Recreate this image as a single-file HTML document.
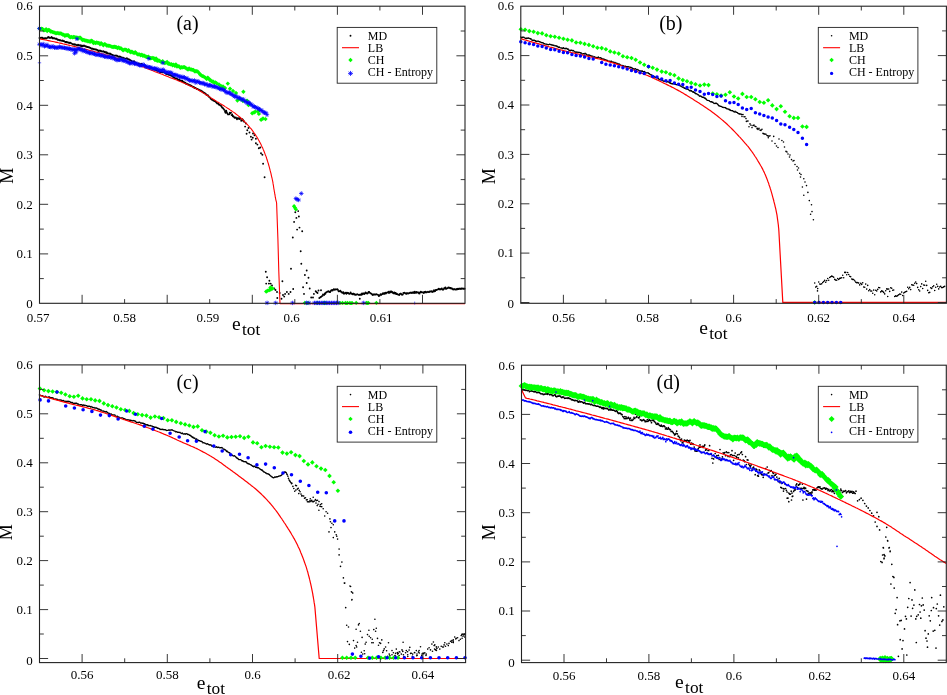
<!DOCTYPE html>
<html><head><meta charset="utf-8"><title>M vs e_tot</title>
<style>
html,body{margin:0;padding:0;background:#fff;}
body{width:947px;height:695px;overflow:hidden;font-family:"Liberation Serif",serif;}
#w{width:947px;height:695px;}
svg text{filter:grayscale(1);}
svg{display:block;}
svg text{font-family:"Liberation Serif",serif;fill:#000;}
</style></head><body><div id="w">
<svg width="947" height="695" viewBox="0 0 947 695">
<rect width="947" height="695" fill="#fff"/>
<path d="M39.5 38h0M40 37.7h0M40.6 38h0M41.1 37.9h0M41.7 37.6h0M42.2 37.8h0M42.8 38.3h0M43.3 38.6h0M43.9 38.2h0M44.4 38.5h0M45 38.3h0M45.5 38.3h0M46.1 38.6h0M46.6 38.1h0M47.2 37.9h0M47.7 37.5h0M48.3 37h0M48.8 37.3h0M49.4 37.9h0M49.9 37.8h0M50.5 37.9h0M51 37.8h0M51.6 37h0M52.1 37.6h0M52.7 38.4h0M53.2 38.2h0M53.8 38.1h0M54.3 38.3h0M54.9 38.5h0M55.4 38.8h0M56 38.8h0M56.5 38.7h0M57.1 39.3h0M57.6 39.7h0M58.2 39.8h0M58.7 39.9h0M59.3 40.2h0M59.8 39.9h0M60.4 40.3h0M60.9 40.5h0M61.5 40.6h0M62 40.8h0M62.6 40.4h0M63.1 41.1h0M63.7 41.1h0M64.2 41.3h0M64.8 41.6h0M65.3 42h0M65.9 41.9h0M66.4 42h0M67 42.4h0M67.5 42.3h0M68.1 42.6h0M68.6 42.8h0M69.2 42.8h0M69.7 43.1h0M70.3 42.8h0M70.8 42.9h0M71.4 43.4h0M71.9 43.6h0M72.5 44.1h0M73 44.4h0M73.6 44.3h0M74.1 44.8h0M74.7 44.2h0M75.2 44.6h0M75.8 44.8h0M76.3 44.9h0M76.9 45.2h0M77.4 45.2h0M78 44.8h0M78.5 45.2h0M79.1 45.2h0M79.6 45.4h0M80.2 45.3h0M80.7 45.8h0M81.3 46.2h0M81.8 45.5h0M82.4 46.1h0M82.9 46.2h0M83.5 45.8h0M84 45.5h0M84.6 45.9h0M85.1 46.2h0M85.7 46.3h0M86.2 46.7h0M86.8 46.7h0M87.3 47h0M87.9 46.9h0M88.4 47.2h0M89 47.3h0M89.5 47.5h0M90.1 47.9h0M90.6 48h0M91.2 48.5h0M91.7 48.7h0M92.3 48.7h0M92.8 48.7h0M93.4 49h0M93.9 49.2h0M94.5 49.3h0M95 49.4h0M95.6 49.5h0M96.1 49.5h0M96.7 49.9h0M97.2 49.9h0M97.8 50.5h0M98.3 51.1h0M98.9 50.4h0M99.4 50.7h0M100 50.7h0M100.5 50.6h0M101.1 51.2h0M101.6 51.3h0M102.2 51.6h0M102.7 51.4h0M103.3 51.3h0M103.8 51.6h0M104.4 52.2h0M104.9 51.8h0M105.5 52.2h0M106 52.7h0M106.6 52.3h0M107.1 53.3h0M107.7 53.2h0M108.2 53.6h0M108.8 53.6h0M109.3 53.8h0M109.9 53.8h0M110.4 53.6h0M111 54.2h0M111.5 54.5h0M112.1 54.8h0M112.6 55h0M113.2 55.2h0M113.7 55.5h0M114.3 55.6h0M114.8 55.7h0M115.4 55.6h0M115.9 55.6h0M116.5 55.7h0M117 55.6h0M117.6 56.1h0M118.1 56.6h0M118.7 56.7h0M119.2 56.8h0M119.8 56.5h0M120.3 56.7h0M120.9 57h0M121.4 57.5h0M122 57.7h0M122.5 57.7h0M123.1 57.8h0M123.6 57.9h0M124.2 58.1h0M124.7 58.5h0M125.3 58.6h0M125.8 58.7h0M126.4 58.5h0M126.9 58.3h0M127.5 58.9h0M128 59.4h0M128.6 59.2h0M129.1 59.6h0M129.7 59.8h0M130.2 60.2h0M130.8 60.4h0M131.3 60.7h0M131.9 61.2h0M132.4 61.5h0M133 61.6h0M133.5 61.5h0M134.1 61.3h0M134.6 61.9h0M135.2 62.4h0M135.7 62.7h0M136.3 62.6h0M136.8 63.4h0M137.4 63.9h0M137.9 63.8h0M138.5 63.6h0M139 63.5h0M139.6 64.1h0M140.1 64.2h0M140.7 64.3h0M141.2 64h0M141.8 63.9h0M142.3 64.4h0M142.9 64.8h0M143.4 64.9h0M144 65.1h0M144.5 65.6h0M145.1 66h0M145.6 66.4h0M146.2 66.5h0M146.7 66.6h0M147.3 67.1h0M147.8 67h0M148.4 66.9h0M148.9 67.2h0M149.5 67.6h0M150.1 68.1h0M150.6 67.8h0M151.2 68.4h0M151.7 68.5h0M152.3 68.5h0M152.8 68.5h0M153.4 68.8h0M153.9 69.6h0M154.5 69.5h0M155 69.7h0M155.6 70.1h0M156.1 70.2h0M156.7 70.4h0M157.2 70.8h0M157.8 70.9h0M158.3 70.8h0M158.9 71.5h0M159.4 71.6h0M160 72.1h0M160.5 72h0M161.1 72h0M161.6 71.9h0M162.2 72.1h0M162.7 72.4h0M163.3 72.4h0M163.8 72.3h0M164.4 72.4h0M164.9 72.8h0M165.5 73.1h0M166 73.8h0M166.6 74h0M167.1 74.2h0M167.7 74.4h0M168.2 74.1h0M168.8 74.7h0M169.3 74.9h0M169.9 75h0M170.4 75.2h0M171 75.2h0M171.5 75.9h0M172.1 75.9h0M172.6 76.6h0M173.2 77h0M173.7 77.6h0M174.3 77.8h0M174.8 78h0M175.4 78.1h0M175.9 78.5h0M176.5 78.6h0M177 78.5h0M177.6 79.2h0M178.1 79.6h0M178.7 80h0M179.2 79.7h0M179.8 80.5h0M180.3 80.4h0M180.9 80.7h0M181.4 81h0M182 81h0M182.5 81h0M183.1 81.6h0M183.6 82h0M184.2 82.2h0M184.7 82.7h0M185.3 82.8h0M185.8 83.5h0M186.4 83.9h0M186.9 83.8h0M187.5 84.3h0M188 84.4h0M188.6 84.4h0M189.1 84.9h0M189.7 85.2h0M190.2 85.3h0M190.8 85.7h0M191.3 85.8h0M191.9 86.3h0M192.4 86.5h0M193 86.8h0M193.5 87.2h0M194.1 87.2h0M194.6 88h0M195.2 87.9h0M195.7 87.9h0M196.3 88.6h0M196.8 89h0M197.4 88.9h0M197.9 89.1h0M198.5 89.5h0M199 89.7h0M199.6 90.1h0M200.1 90.6h0M200.7 90.5h0M201.2 91.2h0M201.8 91.1h0M202.3 91.5h0M202.9 91.9h0M203.4 92.6h0M204 92.8h0M204.5 92.9h0M205.1 93.6h0M205.6 93.8h0M206.2 94.5h0M206.7 94.9h0M207.3 95.2h0M207.8 95.3h0M208.4 95.9h0M208.9 96.7h0M209.5 97.1h0M210 97.6h0M210.6 98.5h0M211.1 99.1h0M211.7 99.6h0M212.2 99.7h0M212.8 100h0M213.3 100.6h0M213.9 100.7h0M214.4 101.1h0M215 101.3h0M215.5 101.4h0M216.1 102.2h0M216.6 102.8h0M217.2 103.4h0M217.7 103.5h0M218.3 103.8h0M218.8 104.4h0M219.4 104.9h0M219.9 104.9h0M220.5 105.4h0M221 105.7h0M221.6 106.6h0M222 107.4h0M222.6 107.7h0M223.2 108.4h0M223.8 109.1h0M224.4 109.9h0M225 111.7h0M225.6 112.8h0M226.2 110.7h0M226.8 112.2h0M227.4 113.4h0M228 114.4h0M228.6 114.4h0M229.2 114.2h0M229.8 112.8h0M230.4 113.3h0M231 112.6h0M231.6 115.1h0M232.2 114.4h0M232.8 116.2h0M233.4 116.3h0M234 116.9h0M234.6 117.8h0M235.2 117.6h0M235.8 117.4h0M236.4 118.3h0M237 119.2h0M237.6 118.3h0M238.2 118.1h0M238.8 118.7h0M239.4 119h0M240 117.9h0M240.6 118.7h0M241.2 120.7h0M241.8 120.5h0M242.4 119.2h0M243 119.9h0M243.6 120.7h0M244.2 121.7h0M245.1 126.6h0M247.3 130.2h0M246.6 133.8h0M250.9 136.7h0M251.6 139.6h0M254.5 135.3h0M255.9 138.8h0M255.9 143.2h0M257.4 144.6h0M258.8 148.2h0M260.3 147.5h0M261 153.2h0M262.4 154.7h0M263.1 163.7h0M264.6 177.3h0M248.5 128h0M249.5 132.5h0M253 133.5h0M246 123.5h0M243 120.3h0M252.8 137.7h0M265.8 271.7h0M267.1 277.3h0M269.4 280.7h0M266.2 283.6h0M268.9 283.6h0M270.7 283.6h0M274.3 288.5h0M277 292h0M279.7 293h0M282.4 281.3h0M277.3 298h0M281.5 298.7h0M284.2 296.6h0M285.1 293.9h0M286.9 292h0M288.7 293.9h0M290.5 292h0M293.2 289h0M291 268.7h0M292.8 237.5h0M294.1 221.9h0M296.4 217.9h0M295.3 212.3h0M298.2 211.1h0M298.9 216.5h0M297.1 229.6h0M299.5 227.6h0M302.2 231.2h0M300.7 251.2h0M301.3 263.8h0M304.9 275h0M306.7 270.5h0M308.5 277.7h0M306.7 283h0M303.1 287.2h0M304 293.9h0M309.7 288.5h0M311.2 297.5h0M313 297.5h0M313.9 293.9h0M315.7 291.2h0M317.5 293h0M321 290.3h0M319.3 298h0M272 285.5h0M275.5 290h0M283 295h0M316.5 292h0M318.5 290.5h0M320 297.6h0M320.6 297h0M321.2 296.8h0M321.8 296.1h0M322.4 295.9h0M323 294.5h0M323.6 294.7h0M324.2 294.9h0M324.8 293.5h0M325.4 293.7h0M326 292.4h0M326.6 292.1h0M327.2 291.8h0M327.8 291.6h0M328.4 291.3h0M329 291.5h0M329.6 292.1h0M330.2 292h0M330.8 290.9h0M331.4 290.3h0M332 290.1h0M332.6 290.6h0M333.2 289.6h0M333.8 289.3h0M334.4 289.7h0M335 289.5h0M335.6 289.5h0M336.2 289.4h0M336.8 289.4h0M337.4 289.2h0M338 290h0M338.6 291.3h0M339.2 291.2h0M339.8 291h0M340.4 290.8h0M341 291.8h0M341.6 292h0M342.2 292.8h0M342.8 292.7h0M343.4 292.2h0M344 293.7h0M344.6 293.3h0M345.2 293h0M345.8 292.7h0M346.4 293.8h0M347 292.7h0M347.6 293.1h0M348.2 292.9h0M348.8 293.6h0M349.4 293.9h0M350 293.4h0M350.6 292.5h0M351.2 293.5h0M351.8 293.7h0M352.4 294.3h0M353 293.8h0M353.6 293.6h0M354.2 294.6h0M354.8 294.2h0M355.4 294.8h0M356 294.8h0M356.6 294.5h0M357.2 294.2h0M357.8 294.4h0M358.4 294.6h0M359 295h0M359.6 294.8h0M360.2 294.8h0M360.8 294.5h0M361.4 294.7h0M362 293.5h0M362.6 294.3h0M363.2 293.4h0M363.8 293.5h0M364.4 294h0M365 293.1h0M365.6 292.5h0M366.2 293.3h0M366.8 293.3h0M367.4 293.5h0M368 292.9h0M368.6 292h0M369.2 292h0M369.8 292.6h0M370.4 293.2h0M371 293.4h0M371.6 293.7h0M372.2 294.6h0M372.8 295h0M373.4 294.5h0M374 294.5h0M374.6 294.5h0M375.2 294.4h0M375.8 294.5h0M376.4 294.1h0M377 294.4h0M377.6 294.6h0M378.2 294.9h0M378.8 296h0M379.4 295.7h0M380 295h0M380.6 294.3h0M381.2 294.9h0M381.8 294.2h0M382.4 294h0M383 293.2h0M383.6 293.7h0M384.2 293.1h0M384.8 293.7h0M385.4 292.8h0M386 293.4h0M386.6 292.7h0M387.2 292.6h0M387.8 292.4h0M388.4 291.7h0M389 293h0M389.6 292.4h0M390.2 291.4h0M390.8 292.2h0M391.4 291.5h0M392 291.6h0M392.6 292.7h0M393.2 292.8h0M393.8 293.4h0M394.4 292.5h0M395 293.6h0M395.6 292.9h0M396.2 294.1h0M396.8 293.6h0M397.4 294.1h0M398 294.5h0M398.6 294.6h0M399.2 295h0M399.8 293.9h0M400.4 293.6h0M401 293.8h0M401.6 294.6h0M402.2 294.7h0M402.8 294.4h0M403.4 293h0M404 292.9h0M404.6 292.7h0M405.2 293.2h0M405.8 293.6h0M406.4 293.9h0M407 293h0M407.6 293.4h0M408.2 293.6h0M408.8 293.2h0M409.4 293.1h0M410 292.7h0M410.6 292.7h0M411.2 292.8h0M411.8 293.1h0M412.4 292.5h0M413 292.8h0M413.6 292.3h0M414.2 293.1h0M414.8 291.8h0M415.4 292.5h0M416 292.9h0M416.6 291.9h0M417.2 292.1h0M417.8 292.6h0M418.4 292.5h0M419 293.4h0M419.6 293.6h0M420.2 292.2h0M420.8 291.6h0M421.4 292h0M422 292.4h0M422.6 292.4h0M423.2 292.5h0M423.8 293.1h0M424.4 292h0M425 292.3h0M425.6 291.6h0M426.2 292.2h0M426.8 292.2h0M427.4 291.9h0M428 291.7h0M428.6 292.1h0M429.2 292.1h0M429.8 291.5h0M430.4 291.5h0M431 291.4h0M431.6 291.2h0M432.2 292.1h0M432.8 291.5h0M433.4 291.6h0M434 290.3h0M434.6 291.2h0M435.2 291.1h0M435.8 290h0M436.4 290.1h0M437 289.7h0M437.6 289.4h0M438.2 289.3h0M438.8 288.7h0M439.4 289h0M440 289.5h0M440.6 289.3h0M441.2 288.7h0M441.8 288.4h0M442.4 289.4h0M443 289.7h0M443.6 289.2h0M444.2 288.3h0M444.8 288.3h0M445.4 287.4h0M446 288.9h0M446.6 288.5h0M447.2 288.3h0M447.8 287.9h0M448.4 287.4h0M449 287.9h0M449.6 287.6h0M450.2 288.3h0M450.8 287.9h0M451.4 288.5h0M452 288.4h0M452.6 289h0M453.2 289.6h0M453.8 289.3h0M454.4 289.2h0M455 289.1h0M455.6 289.5h0M456.2 289.6h0M456.8 288.9h0M457.4 289.2h0M458 288.8h0M458.6 289.1h0M459.2 288.7h0M459.8 288.8h0M460.4 288.8h0M461 289h0M461.6 288.5h0M462.2 288.4h0M462.8 288.6h0M463.4 288.9h0M464 288.5h0M464.6 288.7h0M359.8 298.7h0" stroke="#000000" stroke-width="1.90" stroke-linecap="round" fill="none"/>
<path d="M39.5 38.8L41 39.1L42.4 39.4L43.9 39.7L45.4 40L46.8 40.3L48.3 40.6L49.8 40.9L51.2 41.2L52.7 41.5L54.2 41.8L55.6 42.1L57.1 42.4L58.5 42.8L60 43.1L61.5 43.4L62.9 43.8L64.4 44.1L65.8 44.4L67.3 44.8L68.7 45.1L70.2 45.5L71.6 45.8L73.1 46.2L74.5 46.5L76 46.9L77.4 47.2L78.9 47.6L80.3 47.9L81.8 48.3L83.2 48.7L84.7 49L86.1 49.4L87.6 49.8L89 50.2L90.5 50.6L91.9 50.9L93.4 51.3L94.8 51.7L96.2 52.1L97.7 52.5L99.1 52.9L100.6 53.3L102 53.7L103.5 54.1L104.9 54.6L106.3 55L107.8 55.4L109.2 55.8L110.6 56.2L112.1 56.7L113.5 57.1L114.9 57.5L116.4 58L117.8 58.4L119.2 58.9L120.6 59.3L122.1 59.8L123.5 60.2L124.9 60.7L126.3 61.1L127.7 61.6L129.1 62.1L130.6 62.6L132 63.1L133.4 63.6L134.8 64L136.2 64.5L137.6 65L139 65.6L140.4 66.1L141.8 66.6L143.2 67.1L144.6 67.6L146 68.1L147.4 68.7L148.8 69.2L150.2 69.7L151.6 70.3L153 70.8L154.4 71.4L155.8 71.9L157.2 72.4L158.6 73L160 73.5L161.4 74.1L162.8 74.6L164.2 75.2L165.6 75.7L166.9 76.3L168.3 76.8L169.7 77.4L171.1 77.9L172.5 78.5L173.9 79L175.3 79.6L176.7 80.1L178.1 80.7L179.5 81.2L180.9 81.8L182.3 82.4L183.6 83L185 83.5L186.4 84.1L187.7 84.7L189.1 85.4L190.5 86L191.8 86.6L193.1 87.3L194.5 87.9L195.8 88.6L197.1 89.3L198.4 90L199.7 90.8L201 91.5L202.3 92.3L203.5 93.1L204.8 93.9L206.1 94.7L207.3 95.5L208.6 96.3L209.9 97.1L211.1 97.9L212.4 98.7L213.7 99.5L214.9 100.3L216.2 101.1L217.5 101.9L218.8 102.6L220 103.4L221.3 104.2L222.6 105L223.9 105.8L225.1 106.6L226.4 107.4L227.6 108.2L228.9 109L230.1 109.9L231.4 110.7L232.6 111.6L233.8 112.4L235.1 113.3L236.2 114.2L237.4 115.1L238.6 116.1L239.7 117L240.8 118L241.9 119L243 120.1L244.1 121.1L245.1 122.2L246.2 123.3L247.2 124.4L248.2 125.5L249.2 126.6L250.2 127.8L251.2 128.9L252.1 130.1L253 131.3L253.8 132.5L254.7 133.7L255.5 134.9L256.3 136.2L257.1 137.4L257.9 138.7L258.6 140L259.4 141.4L260.1 142.7L260.8 144L261.4 145.4L262 146.7L262.7 148.1L263.2 149.4L263.8 150.8L264.4 152.2L264.9 153.6L265.4 155L266 156.4L266.5 157.8L266.9 159.3L267.4 160.7L267.8 162.1L268.3 163.5L268.7 165L269.1 166.4L269.5 167.8L269.9 169.3L270.2 170.7L270.6 172.2L271 173.6L271.3 175.1L271.6 176.6L272 178L272.3 179.5L272.6 180.9L272.9 182.4L273.1 183.9L273.4 185.4L273.6 186.8L273.8 188.3L274.1 189.8L274.3 191.3L274.6 192.7L274.8 194.2L275.1 195.7L275.3 197.2L275.6 198.6L275.9 200.1L276.3 201.5L276.6 203L277.9 239L278.8 271.4L280 303.6L465 303.6" stroke="#ff0000" stroke-width="1.1" fill="none" stroke-linejoin="round"/>
<path d="M39.5 26.2l2.2 2.2l-2.2 2.2l-2.2 -2.2zM40.6 26.9l2.2 2.2l-2.2 2.2l-2.2 -2.2zM41.7 26.4l2.2 2.2l-2.2 2.2l-2.2 -2.2zM42.8 27.1l2.2 2.2l-2.2 2.2l-2.2 -2.2zM43.9 28l2.2 2.2l-2.2 2.2l-2.2 -2.2zM45 27.9l2.2 2.2l-2.2 2.2l-2.2 -2.2zM46.1 27.1l2.2 2.2l-2.2 2.2l-2.2 -2.2zM47.2 28.8l2.2 2.2l-2.2 2.2l-2.2 -2.2zM48.3 27.7l2.2 2.2l-2.2 2.2l-2.2 -2.2zM49.4 27.9l2.2 2.2l-2.2 2.2l-2.2 -2.2zM50.5 29.3l2.2 2.2l-2.2 2.2l-2.2 -2.2zM51.6 29.4l2.2 2.2l-2.2 2.2l-2.2 -2.2zM52.7 29.9l2.2 2.2l-2.2 2.2l-2.2 -2.2zM53.8 30.2l2.2 2.2l-2.2 2.2l-2.2 -2.2zM54.9 30.6l2.2 2.2l-2.2 2.2l-2.2 -2.2zM56 31.2l2.2 2.2l-2.2 2.2l-2.2 -2.2zM57.1 30.7l2.2 2.2l-2.2 2.2l-2.2 -2.2zM58.2 31.1l2.2 2.2l-2.2 2.2l-2.2 -2.2zM59.3 31.2l2.2 2.2l-2.2 2.2l-2.2 -2.2zM60.4 31.2l2.2 2.2l-2.2 2.2l-2.2 -2.2zM61.5 31.5l2.2 2.2l-2.2 2.2l-2.2 -2.2zM62.6 32.4l2.2 2.2l-2.2 2.2l-2.2 -2.2zM63.7 32.6l2.2 2.2l-2.2 2.2l-2.2 -2.2zM64.8 33.6l2.2 2.2l-2.2 2.2l-2.2 -2.2zM65.9 33.1l2.2 2.2l-2.2 2.2l-2.2 -2.2zM67 33l2.2 2.2l-2.2 2.2l-2.2 -2.2zM68.1 32.9l2.2 2.2l-2.2 2.2l-2.2 -2.2zM69.2 34.4l2.2 2.2l-2.2 2.2l-2.2 -2.2zM70.3 35l2.2 2.2l-2.2 2.2l-2.2 -2.2zM71.4 34.7l2.2 2.2l-2.2 2.2l-2.2 -2.2zM72.5 35.2l2.2 2.2l-2.2 2.2l-2.2 -2.2zM73.6 34.8l2.2 2.2l-2.2 2.2l-2.2 -2.2zM74.7 34.9l2.2 2.2l-2.2 2.2l-2.2 -2.2zM75.8 35.4l2.2 2.2l-2.2 2.2l-2.2 -2.2zM76.9 35.2l2.2 2.2l-2.2 2.2l-2.2 -2.2zM78 36.4l2.2 2.2l-2.2 2.2l-2.2 -2.2zM79.1 35.5l2.2 2.2l-2.2 2.2l-2.2 -2.2zM80.2 35.4l2.2 2.2l-2.2 2.2l-2.2 -2.2zM81.3 36.4l2.2 2.2l-2.2 2.2l-2.2 -2.2zM82.4 37.8l2.2 2.2l-2.2 2.2l-2.2 -2.2zM83.5 37.7l2.2 2.2l-2.2 2.2l-2.2 -2.2zM84.6 38.1l2.2 2.2l-2.2 2.2l-2.2 -2.2zM85.7 38.4l2.2 2.2l-2.2 2.2l-2.2 -2.2zM86.8 38.6l2.2 2.2l-2.2 2.2l-2.2 -2.2zM87.9 39.1l2.2 2.2l-2.2 2.2l-2.2 -2.2zM89 39.1l2.2 2.2l-2.2 2.2l-2.2 -2.2zM90.1 39.6l2.2 2.2l-2.2 2.2l-2.2 -2.2zM91.2 38.4l2.2 2.2l-2.2 2.2l-2.2 -2.2zM92.3 38.9l2.2 2.2l-2.2 2.2l-2.2 -2.2zM93.4 40.8l2.2 2.2l-2.2 2.2l-2.2 -2.2zM94.5 40.3l2.2 2.2l-2.2 2.2l-2.2 -2.2zM95.6 40.8l2.2 2.2l-2.2 2.2l-2.2 -2.2zM96.7 40.3l2.2 2.2l-2.2 2.2l-2.2 -2.2zM97.8 40.7l2.2 2.2l-2.2 2.2l-2.2 -2.2zM98.9 40.7l2.2 2.2l-2.2 2.2l-2.2 -2.2zM100 42l2.2 2.2l-2.2 2.2l-2.2 -2.2zM101.1 40.9l2.2 2.2l-2.2 2.2l-2.2 -2.2zM102.2 41.9l2.2 2.2l-2.2 2.2l-2.2 -2.2zM103.3 43l2.2 2.2l-2.2 2.2l-2.2 -2.2zM104.4 41.9l2.2 2.2l-2.2 2.2l-2.2 -2.2zM105.5 42.3l2.2 2.2l-2.2 2.2l-2.2 -2.2zM106.6 43.3l2.2 2.2l-2.2 2.2l-2.2 -2.2zM107.7 43.4l2.2 2.2l-2.2 2.2l-2.2 -2.2zM108.8 43.6l2.2 2.2l-2.2 2.2l-2.2 -2.2zM109.9 43.7l2.2 2.2l-2.2 2.2l-2.2 -2.2zM111 44.2l2.2 2.2l-2.2 2.2l-2.2 -2.2zM112.1 44.7l2.2 2.2l-2.2 2.2l-2.2 -2.2zM113.2 44.8l2.2 2.2l-2.2 2.2l-2.2 -2.2zM114.3 44.6l2.2 2.2l-2.2 2.2l-2.2 -2.2zM115.4 44.8l2.2 2.2l-2.2 2.2l-2.2 -2.2zM116.5 45.1l2.2 2.2l-2.2 2.2l-2.2 -2.2zM117.6 45.8l2.2 2.2l-2.2 2.2l-2.2 -2.2zM118.7 45.2l2.2 2.2l-2.2 2.2l-2.2 -2.2zM119.8 46.2l2.2 2.2l-2.2 2.2l-2.2 -2.2zM120.9 46.1l2.2 2.2l-2.2 2.2l-2.2 -2.2zM122 47l2.2 2.2l-2.2 2.2l-2.2 -2.2zM123.1 48.2l2.2 2.2l-2.2 2.2l-2.2 -2.2zM124.2 47.4l2.2 2.2l-2.2 2.2l-2.2 -2.2zM125.3 47.4l2.2 2.2l-2.2 2.2l-2.2 -2.2zM126.4 47.8l2.2 2.2l-2.2 2.2l-2.2 -2.2zM127.5 48.8l2.2 2.2l-2.2 2.2l-2.2 -2.2zM128.6 47.9l2.2 2.2l-2.2 2.2l-2.2 -2.2zM129.7 49.4l2.2 2.2l-2.2 2.2l-2.2 -2.2zM130.8 50.1l2.2 2.2l-2.2 2.2l-2.2 -2.2zM131.9 49.4l2.2 2.2l-2.2 2.2l-2.2 -2.2zM133 50.3l2.2 2.2l-2.2 2.2l-2.2 -2.2zM134.1 50.9l2.2 2.2l-2.2 2.2l-2.2 -2.2zM135.2 49.9l2.2 2.2l-2.2 2.2l-2.2 -2.2zM136.3 51.1l2.2 2.2l-2.2 2.2l-2.2 -2.2zM137.4 52l2.2 2.2l-2.2 2.2l-2.2 -2.2zM138.5 52.2l2.2 2.2l-2.2 2.2l-2.2 -2.2zM139.6 52.2l2.2 2.2l-2.2 2.2l-2.2 -2.2zM140.7 53l2.2 2.2l-2.2 2.2l-2.2 -2.2zM141.8 52.6l2.2 2.2l-2.2 2.2l-2.2 -2.2zM142.9 53.6l2.2 2.2l-2.2 2.2l-2.2 -2.2zM144 53.3l2.2 2.2l-2.2 2.2l-2.2 -2.2zM145.1 54l2.2 2.2l-2.2 2.2l-2.2 -2.2zM146.2 54.5l2.2 2.2l-2.2 2.2l-2.2 -2.2zM147.3 54.9l2.2 2.2l-2.2 2.2l-2.2 -2.2zM148.4 54.4l2.2 2.2l-2.2 2.2l-2.2 -2.2zM149.5 55.9l2.2 2.2l-2.2 2.2l-2.2 -2.2zM150.6 56l2.2 2.2l-2.2 2.2l-2.2 -2.2zM151.7 55.9l2.2 2.2l-2.2 2.2l-2.2 -2.2zM152.8 55.7l2.2 2.2l-2.2 2.2l-2.2 -2.2zM153.9 56.1l2.2 2.2l-2.2 2.2l-2.2 -2.2zM155 57.8l2.2 2.2l-2.2 2.2l-2.2 -2.2zM156.1 56.3l2.2 2.2l-2.2 2.2l-2.2 -2.2zM157.2 58.5l2.2 2.2l-2.2 2.2l-2.2 -2.2zM158.3 58.3l2.2 2.2l-2.2 2.2l-2.2 -2.2zM159.4 58.6l2.2 2.2l-2.2 2.2l-2.2 -2.2zM160.5 59.4l2.2 2.2l-2.2 2.2l-2.2 -2.2zM161.6 59.9l2.2 2.2l-2.2 2.2l-2.2 -2.2zM162.7 59l2.2 2.2l-2.2 2.2l-2.2 -2.2zM163.8 60.4l2.2 2.2l-2.2 2.2l-2.2 -2.2zM164.9 60.9l2.2 2.2l-2.2 2.2l-2.2 -2.2zM166 60.4l2.2 2.2l-2.2 2.2l-2.2 -2.2zM167.1 59.8l2.2 2.2l-2.2 2.2l-2.2 -2.2zM168.2 61.6l2.2 2.2l-2.2 2.2l-2.2 -2.2zM169.3 61.5l2.2 2.2l-2.2 2.2l-2.2 -2.2zM170.4 62.2l2.2 2.2l-2.2 2.2l-2.2 -2.2zM171.5 62.1l2.2 2.2l-2.2 2.2l-2.2 -2.2zM172.6 63l2.2 2.2l-2.2 2.2l-2.2 -2.2zM173.7 62.4l2.2 2.2l-2.2 2.2l-2.2 -2.2zM174.8 63.5l2.2 2.2l-2.2 2.2l-2.2 -2.2zM175.9 62.3l2.2 2.2l-2.2 2.2l-2.2 -2.2zM177 64.3l2.2 2.2l-2.2 2.2l-2.2 -2.2zM178.1 63.9l2.2 2.2l-2.2 2.2l-2.2 -2.2zM179.2 64.3l2.2 2.2l-2.2 2.2l-2.2 -2.2zM180.3 65.6l2.2 2.2l-2.2 2.2l-2.2 -2.2zM181.4 65l2.2 2.2l-2.2 2.2l-2.2 -2.2zM182.5 65.2l2.2 2.2l-2.2 2.2l-2.2 -2.2zM183.6 64.9l2.2 2.2l-2.2 2.2l-2.2 -2.2zM184.7 65l2.2 2.2l-2.2 2.2l-2.2 -2.2zM185.8 65.9l2.2 2.2l-2.2 2.2l-2.2 -2.2zM186.9 66.6l2.2 2.2l-2.2 2.2l-2.2 -2.2zM188 67.3l2.2 2.2l-2.2 2.2l-2.2 -2.2zM189.1 66.3l2.2 2.2l-2.2 2.2l-2.2 -2.2zM190.2 67.2l2.2 2.2l-2.2 2.2l-2.2 -2.2zM191.3 67.3l2.2 2.2l-2.2 2.2l-2.2 -2.2zM192.4 67.7l2.2 2.2l-2.2 2.2l-2.2 -2.2zM193.5 67.8l2.2 2.2l-2.2 2.2l-2.2 -2.2zM194.6 69l2.2 2.2l-2.2 2.2l-2.2 -2.2zM195.7 69.1l2.2 2.2l-2.2 2.2l-2.2 -2.2zM196.8 69l2.2 2.2l-2.2 2.2l-2.2 -2.2zM197.9 69.5l2.2 2.2l-2.2 2.2l-2.2 -2.2zM199 70.8l2.2 2.2l-2.2 2.2l-2.2 -2.2zM200.1 72.4l2.2 2.2l-2.2 2.2l-2.2 -2.2zM201.2 73l2.2 2.2l-2.2 2.2l-2.2 -2.2zM202.3 73.9l2.2 2.2l-2.2 2.2l-2.2 -2.2zM203.4 74.2l2.2 2.2l-2.2 2.2l-2.2 -2.2zM204.5 74.9l2.2 2.2l-2.2 2.2l-2.2 -2.2zM205.6 75.8l2.2 2.2l-2.2 2.2l-2.2 -2.2zM206.7 76.8l2.2 2.2l-2.2 2.2l-2.2 -2.2zM207.8 75.4l2.2 2.2l-2.2 2.2l-2.2 -2.2zM208.9 76.4l2.2 2.2l-2.2 2.2l-2.2 -2.2zM210 78l2.2 2.2l-2.2 2.2l-2.2 -2.2zM211.1 78.5l2.2 2.2l-2.2 2.2l-2.2 -2.2zM212.2 79.3l2.2 2.2l-2.2 2.2l-2.2 -2.2zM213.3 79.6l2.2 2.2l-2.2 2.2l-2.2 -2.2zM214.4 80.5l2.2 2.2l-2.2 2.2l-2.2 -2.2zM215.5 80.2l2.2 2.2l-2.2 2.2l-2.2 -2.2zM216.6 81.1l2.2 2.2l-2.2 2.2l-2.2 -2.2zM219 82.3l2.2 2.2l-2.2 2.2l-2.2 -2.2zM221 83.8l2.2 2.2l-2.2 2.2l-2.2 -2.2zM223 84.3l2.2 2.2l-2.2 2.2l-2.2 -2.2zM225 85.8l2.2 2.2l-2.2 2.2l-2.2 -2.2zM227.8 81.4l2.2 2.2l-2.2 2.2l-2.2 -2.2zM230 86.6l2.2 2.2l-2.2 2.2l-2.2 -2.2zM233 88.8l2.2 2.2l-2.2 2.2l-2.2 -2.2zM236 90.8l2.2 2.2l-2.2 2.2l-2.2 -2.2zM243.4 89.5l2.2 2.2l-2.2 2.2l-2.2 -2.2zM237.4 98.4l2.2 2.2l-2.2 2.2l-2.2 -2.2zM240 96.8l2.2 2.2l-2.2 2.2l-2.2 -2.2zM243 98.8l2.2 2.2l-2.2 2.2l-2.2 -2.2zM247 98.4l2.2 2.2l-2.2 2.2l-2.2 -2.2zM248.5 102.8l2.2 2.2l-2.2 2.2l-2.2 -2.2zM250 101.8l2.2 2.2l-2.2 2.2l-2.2 -2.2zM252.2 111l2.2 2.2l-2.2 2.2l-2.2 -2.2zM255.2 109.5l2.2 2.2l-2.2 2.2l-2.2 -2.2zM258.9 111.7l2.2 2.2l-2.2 2.2l-2.2 -2.2zM261.1 117.6l2.2 2.2l-2.2 2.2l-2.2 -2.2zM263 116.3l2.2 2.2l-2.2 2.2l-2.2 -2.2zM265.5 116.9l2.2 2.2l-2.2 2.2l-2.2 -2.2zM258 109.3l2.2 2.2l-2.2 2.2l-2.2 -2.2zM254 110.3l2.2 2.2l-2.2 2.2l-2.2 -2.2zM266.2 289.3l2.2 2.2l-2.2 2.2l-2.2 -2.2zM267.8 288.4l2.2 2.2l-2.2 2.2l-2.2 -2.2zM269.4 287.8l2.2 2.2l-2.2 2.2l-2.2 -2.2zM271 287l2.2 2.2l-2.2 2.2l-2.2 -2.2zM272.5 286.3l2.2 2.2l-2.2 2.2l-2.2 -2.2zM270.5 285.3l2.2 2.2l-2.2 2.2l-2.2 -2.2zM294.1 204l2.2 2.2l-2.2 2.2l-2.2 -2.2zM295 205.6l2.2 2.2l-2.2 2.2l-2.2 -2.2zM295.9 207.1l2.2 2.2l-2.2 2.2l-2.2 -2.2zM304.9 300.7l2.2 2.2l-2.2 2.2l-2.2 -2.2zM308 300.7l2.2 2.2l-2.2 2.2l-2.2 -2.2zM317.5 300.7l2.2 2.2l-2.2 2.2l-2.2 -2.2zM323.8 300.7l2.2 2.2l-2.2 2.2l-2.2 -2.2zM325.2 300.7l2.2 2.2l-2.2 2.2l-2.2 -2.2zM340 300.7l2.2 2.2l-2.2 2.2l-2.2 -2.2zM342.5 300.7l2.2 2.2l-2.2 2.2l-2.2 -2.2zM345.4 300.7l2.2 2.2l-2.2 2.2l-2.2 -2.2zM347.5 300.7l2.2 2.2l-2.2 2.2l-2.2 -2.2zM349.9 300.7l2.2 2.2l-2.2 2.2l-2.2 -2.2zM352 300.7l2.2 2.2l-2.2 2.2l-2.2 -2.2zM356.2 300.7l2.2 2.2l-2.2 2.2l-2.2 -2.2zM366.6 300.7l2.2 2.2l-2.2 2.2l-2.2 -2.2zM368.3 300.7l2.2 2.2l-2.2 2.2l-2.2 -2.2zM376.4 300.7l2.2 2.2l-2.2 2.2l-2.2 -2.2z" fill="#00ff00"/>
<path d="M37.3 44.3h4.4M39.5 42.1v4.4M37.9 42.7l3.1 3.1M37.9 45.8l3.1 -3.1M38.5 44.5h4.4M40.8 42.3v4.4M39.2 42.9l3.1 3.1M39.2 46l3.1 -3.1M39.8 45.4h4.4M42 43.2v4.4M40.4 43.8l3.1 3.1M40.4 46.9l3.1 -3.1M41 44h4.4M43.2 41.8v4.4M41.7 42.4l3.1 3.1M41.7 45.5l3.1 -3.1M42.3 46.3h4.4M44.5 44.1v4.4M42.9 44.7l3.1 3.1M42.9 47.8l3.1 -3.1M43.5 45.8h4.4M45.8 43.6v4.4M44.2 44.3l3.1 3.1M44.2 47.4l3.1 -3.1M44.8 44.8h4.4M47 42.6v4.4M45.4 43.3l3.1 3.1M45.4 46.4l3.1 -3.1M46 46.5h4.4M48.2 44.3v4.4M46.7 44.9l3.1 3.1M46.7 48l3.1 -3.1M47.3 46.8h4.4M49.5 44.6v4.4M47.9 45.3l3.1 3.1M47.9 48.4l3.1 -3.1M48.5 47.2h4.4M50.8 45v4.4M49.2 45.6l3.1 3.1M49.2 48.8l3.1 -3.1M49.8 46.6h4.4M52 44.4v4.4M50.4 45l3.1 3.1M50.4 48.1l3.1 -3.1M51 46.6h4.4M53.2 44.4v4.4M51.7 45.1l3.1 3.1M51.7 48.2l3.1 -3.1M52.3 47.7h4.4M54.5 45.5v4.4M52.9 46.2l3.1 3.1M52.9 49.3l3.1 -3.1M53.5 47.3h4.4M55.8 45.1v4.4M54.2 45.8l3.1 3.1M54.2 48.9l3.1 -3.1M54.8 47.8h4.4M57 45.6v4.4M55.4 46.2l3.1 3.1M55.4 49.3l3.1 -3.1M56 47.6h4.4M58.2 45.4v4.4M56.7 46l3.1 3.1M56.7 49.1l3.1 -3.1M57.3 46.7h4.4M59.5 44.5v4.4M57.9 45.2l3.1 3.1M57.9 48.3l3.1 -3.1M58.5 47.4h4.4M60.8 45.2v4.4M59.2 45.9l3.1 3.1M59.2 49l3.1 -3.1M59.8 47.4h4.4M62 45.2v4.4M60.4 45.9l3.1 3.1M60.4 49l3.1 -3.1M61 47.8h4.4M63.2 45.6v4.4M61.7 46.3l3.1 3.1M61.7 49.4l3.1 -3.1M62.3 47.9h4.4M64.5 45.7v4.4M62.9 46.4l3.1 3.1M62.9 49.5l3.1 -3.1M63.5 48.2h4.4M65.8 46v4.4M64.2 46.6l3.1 3.1M64.2 49.7l3.1 -3.1M64.8 48.1h4.4M67 45.9v4.4M65.4 46.6l3.1 3.1M65.4 49.7l3.1 -3.1M66 49h4.4M68.2 46.8v4.4M66.7 47.4l3.1 3.1M66.7 50.5l3.1 -3.1M67.3 48.6h4.4M69.5 46.4v4.4M67.9 47l3.1 3.1M67.9 50.1l3.1 -3.1M68.5 49.2h4.4M70.8 47v4.4M69.2 47.6l3.1 3.1M69.2 50.8l3.1 -3.1M69.8 49.5h4.4M72 47.3v4.4M70.4 47.9l3.1 3.1M70.4 51.1l3.1 -3.1M71 49.5h4.4M73.2 47.3v4.4M71.7 48l3.1 3.1M71.7 51.1l3.1 -3.1M72.3 49.6h4.4M74.5 47.4v4.4M72.9 48.1l3.1 3.1M72.9 51.2l3.1 -3.1M73.5 49.9h4.4M75.8 47.7v4.4M74.2 48.3l3.1 3.1M74.2 51.4l3.1 -3.1M74.8 49.5h4.4M77 47.3v4.4M75.4 48l3.1 3.1M75.4 51.1l3.1 -3.1M76 48.8h4.4M78.2 46.6v4.4M76.7 47.2l3.1 3.1M76.7 50.3l3.1 -3.1M77.3 48.8h4.4M79.5 46.6v4.4M77.9 47.2l3.1 3.1M77.9 50.3l3.1 -3.1M78.5 50h4.4M80.8 47.8v4.4M79.2 48.4l3.1 3.1M79.2 51.5l3.1 -3.1M79.8 49.5h4.4M82 47.3v4.4M80.4 47.9l3.1 3.1M80.4 51l3.1 -3.1M81 51.1h4.4M83.2 48.9v4.4M81.7 49.6l3.1 3.1M81.7 52.7l3.1 -3.1M82.3 50.3h4.4M84.5 48.1v4.4M82.9 48.8l3.1 3.1M82.9 51.9l3.1 -3.1M83.5 51.4h4.4M85.8 49.2v4.4M84.2 49.8l3.1 3.1M84.2 52.9l3.1 -3.1M84.8 52.2h4.4M87 50v4.4M85.4 50.7l3.1 3.1M85.4 53.8l3.1 -3.1M86 52.2h4.4M88.2 50v4.4M86.7 50.6l3.1 3.1M86.7 53.8l3.1 -3.1M87.3 53.1h4.4M89.5 50.9v4.4M87.9 51.5l3.1 3.1M87.9 54.6l3.1 -3.1M88.5 53.1h4.4M90.8 50.9v4.4M89.2 51.5l3.1 3.1M89.2 54.6l3.1 -3.1M89.8 52.9h4.4M92 50.7v4.4M90.4 51.3l3.1 3.1M90.4 54.5l3.1 -3.1M91 53.7h4.4M93.2 51.5v4.4M91.7 52.2l3.1 3.1M91.7 55.3l3.1 -3.1M92.3 54h4.4M94.5 51.8v4.4M92.9 52.4l3.1 3.1M92.9 55.6l3.1 -3.1M93.5 54.5h4.4M95.8 52.3v4.4M94.2 52.9l3.1 3.1M94.2 56l3.1 -3.1M94.8 54.9h4.4M97 52.7v4.4M95.4 53.4l3.1 3.1M95.4 56.5l3.1 -3.1M96 54.5h4.4M98.2 52.3v4.4M96.7 53l3.1 3.1M96.7 56.1l3.1 -3.1M97.3 54.8h4.4M99.5 52.6v4.4M97.9 53.2l3.1 3.1M97.9 56.3l3.1 -3.1M98.5 55.7h4.4M100.8 53.5v4.4M99.2 54.1l3.1 3.1M99.2 57.3l3.1 -3.1M99.8 55h4.4M102 52.8v4.4M100.4 53.4l3.1 3.1M100.4 56.5l3.1 -3.1M101 56h4.4M103.2 53.8v4.4M101.7 54.4l3.1 3.1M101.7 57.5l3.1 -3.1M102.3 56.6h4.4M104.5 54.4v4.4M102.9 55l3.1 3.1M102.9 58.1l3.1 -3.1M103.5 56.5h4.4M105.8 54.3v4.4M104.2 55l3.1 3.1M104.2 58.1l3.1 -3.1M104.8 56.9h4.4M107 54.7v4.4M105.4 55.4l3.1 3.1M105.4 58.5l3.1 -3.1M106 57.2h4.4M108.2 55v4.4M106.7 55.6l3.1 3.1M106.7 58.7l3.1 -3.1M107.3 56.9h4.4M109.5 54.7v4.4M107.9 55.4l3.1 3.1M107.9 58.5l3.1 -3.1M108.5 57.4h4.4M110.8 55.2v4.4M109.2 55.9l3.1 3.1M109.2 59l3.1 -3.1M109.8 57.9h4.4M112 55.7v4.4M110.4 56.3l3.1 3.1M110.4 59.4l3.1 -3.1M111 57.4h4.4M113.2 55.2v4.4M111.7 55.8l3.1 3.1M111.7 58.9l3.1 -3.1M112.3 59h4.4M114.5 56.8v4.4M112.9 57.4l3.1 3.1M112.9 60.5l3.1 -3.1M113.5 59h4.4M115.8 56.8v4.4M114.2 57.4l3.1 3.1M114.2 60.5l3.1 -3.1M114.8 60.2h4.4M117 58v4.4M115.4 58.7l3.1 3.1M115.4 61.8l3.1 -3.1M116 59.9h4.4M118.2 57.7v4.4M116.7 58.3l3.1 3.1M116.7 61.5l3.1 -3.1M117.3 59.9h4.4M119.5 57.7v4.4M117.9 58.3l3.1 3.1M117.9 61.4l3.1 -3.1M118.5 59.4h4.4M120.8 57.2v4.4M119.2 57.8l3.1 3.1M119.2 60.9l3.1 -3.1M119.8 59.6h4.4M122 57.4v4.4M120.4 58.1l3.1 3.1M120.4 61.2l3.1 -3.1M121 60.9h4.4M123.2 58.7v4.4M121.7 59.3l3.1 3.1M121.7 62.4l3.1 -3.1M122.3 60.3h4.4M124.5 58.1v4.4M122.9 58.7l3.1 3.1M122.9 61.8l3.1 -3.1M123.5 61h4.4M125.8 58.8v4.4M124.2 59.4l3.1 3.1M124.2 62.5l3.1 -3.1M124.8 61.8h4.4M127 59.6v4.4M125.4 60.3l3.1 3.1M125.4 63.4l3.1 -3.1M126 62.3h4.4M128.2 60.1v4.4M126.7 60.7l3.1 3.1M126.7 63.8l3.1 -3.1M127.3 63.2h4.4M129.5 61v4.4M127.9 61.6l3.1 3.1M127.9 64.8l3.1 -3.1M128.6 63.3h4.4M130.8 61.1v4.4M129.2 61.8l3.1 3.1M129.2 64.9l3.1 -3.1M129.8 62.5h4.4M132 60.3v4.4M130.4 61l3.1 3.1M130.4 64.1l3.1 -3.1M131.1 62.8h4.4M133.2 60.6v4.4M131.7 61.3l3.1 3.1M131.7 64.4l3.1 -3.1M132.3 63.9h4.4M134.5 61.7v4.4M132.9 62.4l3.1 3.1M132.9 65.5l3.1 -3.1M133.6 63.2h4.4M135.8 61v4.4M134.2 61.7l3.1 3.1M134.2 64.8l3.1 -3.1M134.8 64.2h4.4M137 62v4.4M135.4 62.7l3.1 3.1M135.4 65.8l3.1 -3.1M136.1 64.5h4.4M138.2 62.3v4.4M136.7 62.9l3.1 3.1M136.7 66l3.1 -3.1M137.3 65.3h4.4M139.5 63.1v4.4M137.9 63.7l3.1 3.1M137.9 66.9l3.1 -3.1M138.6 65.4h4.4M140.8 63.2v4.4M139.2 63.9l3.1 3.1M139.2 67l3.1 -3.1M139.8 65.5h4.4M142 63.3v4.4M140.4 63.9l3.1 3.1M140.4 67l3.1 -3.1M141.1 64.5h4.4M143.2 62.3v4.4M141.7 63l3.1 3.1M141.7 66.1l3.1 -3.1M142.3 65.4h4.4M144.5 63.2v4.4M142.9 63.9l3.1 3.1M142.9 67l3.1 -3.1M143.6 66.6h4.4M145.8 64.4v4.4M144.2 65.1l3.1 3.1M144.2 68.2l3.1 -3.1M144.8 66.7h4.4M147 64.5v4.4M145.4 65.1l3.1 3.1M145.4 68.3l3.1 -3.1M146.1 67h4.4M148.2 64.8v4.4M146.7 65.4l3.1 3.1M146.7 68.5l3.1 -3.1M147.3 67.4h4.4M149.5 65.2v4.4M147.9 65.9l3.1 3.1M147.9 69l3.1 -3.1M148.6 67.3h4.4M150.8 65.1v4.4M149.2 65.8l3.1 3.1M149.2 68.9l3.1 -3.1M149.8 68.4h4.4M152 66.2v4.4M150.4 66.9l3.1 3.1M150.4 70l3.1 -3.1M151.1 68.5h4.4M153.2 66.3v4.4M151.7 67l3.1 3.1M151.7 70.1l3.1 -3.1M152.3 68.5h4.4M154.5 66.3v4.4M152.9 66.9l3.1 3.1M152.9 70l3.1 -3.1M153.6 68.6h4.4M155.8 66.4v4.4M154.2 67l3.1 3.1M154.2 70.1l3.1 -3.1M154.8 69h4.4M157 66.8v4.4M155.4 67.4l3.1 3.1M155.4 70.6l3.1 -3.1M156.1 69.6h4.4M158.2 67.4v4.4M156.7 68l3.1 3.1M156.7 71.1l3.1 -3.1M157.3 71h4.4M159.5 68.8v4.4M157.9 69.4l3.1 3.1M157.9 72.5l3.1 -3.1M158.6 69.9h4.4M160.8 67.7v4.4M159.2 68.4l3.1 3.1M159.2 71.5l3.1 -3.1M159.8 70.9h4.4M162 68.7v4.4M160.4 69.4l3.1 3.1M160.4 72.5l3.1 -3.1M161.1 69.5h4.4M163.2 67.3v4.4M161.7 67.9l3.1 3.1M161.7 71l3.1 -3.1M162.3 71.3h4.4M164.5 69.1v4.4M162.9 69.7l3.1 3.1M162.9 72.8l3.1 -3.1M163.6 72.4h4.4M165.8 70.2v4.4M164.2 70.9l3.1 3.1M164.2 74l3.1 -3.1M164.8 72h4.4M167 69.8v4.4M165.4 70.5l3.1 3.1M165.4 73.6l3.1 -3.1M166.1 72.6h4.4M168.2 70.4v4.4M166.7 71l3.1 3.1M166.7 74.1l3.1 -3.1M167.3 72.8h4.4M169.5 70.6v4.4M167.9 71.2l3.1 3.1M167.9 74.3l3.1 -3.1M168.6 72.4h4.4M170.8 70.2v4.4M169.2 70.9l3.1 3.1M169.2 74l3.1 -3.1M169.8 73.5h4.4M172 71.3v4.4M170.4 72l3.1 3.1M170.4 75.1l3.1 -3.1M171.1 74.9h4.4M173.2 72.7v4.4M171.7 73.4l3.1 3.1M171.7 76.5l3.1 -3.1M172.3 74.9h4.4M174.5 72.7v4.4M172.9 73.3l3.1 3.1M172.9 76.4l3.1 -3.1M173.6 74.8h4.4M175.8 72.6v4.4M174.2 73.2l3.1 3.1M174.2 76.3l3.1 -3.1M174.8 75.5h4.4M177 73.3v4.4M175.4 73.9l3.1 3.1M175.4 77l3.1 -3.1M176.1 76h4.4M178.2 73.8v4.4M176.7 74.4l3.1 3.1M176.7 77.5l3.1 -3.1M177.3 76.9h4.4M179.5 74.7v4.4M177.9 75.3l3.1 3.1M177.9 78.5l3.1 -3.1M178.6 76.5h4.4M180.8 74.3v4.4M179.2 75l3.1 3.1M179.2 78.1l3.1 -3.1M179.8 77.7h4.4M182 75.5v4.4M180.4 76.1l3.1 3.1M180.4 79.2l3.1 -3.1M181.1 77h4.4M183.2 74.8v4.4M181.7 75.5l3.1 3.1M181.7 78.6l3.1 -3.1M182.3 77.5h4.4M184.5 75.3v4.4M182.9 75.9l3.1 3.1M182.9 79l3.1 -3.1M183.6 78.6h4.4M185.8 76.4v4.4M184.2 77.1l3.1 3.1M184.2 80.2l3.1 -3.1M184.8 78.4h4.4M187 76.2v4.4M185.4 76.8l3.1 3.1M185.4 79.9l3.1 -3.1M186.1 79.6h4.4M188.2 77.4v4.4M186.7 78l3.1 3.1M186.7 81.1l3.1 -3.1M187.3 80.4h4.4M189.5 78.2v4.4M187.9 78.8l3.1 3.1M187.9 81.9l3.1 -3.1M188.6 80.6h4.4M190.8 78.4v4.4M189.2 79.1l3.1 3.1M189.2 82.2l3.1 -3.1M189.8 80.5h4.4M192 78.3v4.4M190.4 78.9l3.1 3.1M190.4 82l3.1 -3.1M191.1 81.3h4.4M193.2 79.1v4.4M191.7 79.8l3.1 3.1M191.7 82.9l3.1 -3.1M192.3 80.5h4.4M194.5 78.3v4.4M192.9 78.9l3.1 3.1M192.9 82l3.1 -3.1M193.6 82.6h4.4M195.8 80.4v4.4M194.2 81l3.1 3.1M194.2 84.2l3.1 -3.1M194.8 81.3h4.4M197 79.1v4.4M195.4 79.7l3.1 3.1M195.4 82.8l3.1 -3.1M196.1 81.6h4.4M198.2 79.4v4.4M196.7 80l3.1 3.1M196.7 83.1l3.1 -3.1M197.3 82.7h4.4M199.5 80.5v4.4M197.9 81.1l3.1 3.1M197.9 84.2l3.1 -3.1M198.6 82.9h4.4M200.8 80.7v4.4M199.2 81.3l3.1 3.1M199.2 84.4l3.1 -3.1M199.8 83.4h4.4M202 81.2v4.4M200.4 81.8l3.1 3.1M200.4 84.9l3.1 -3.1M201.1 83h4.4M203.2 80.8v4.4M201.7 81.4l3.1 3.1M201.7 84.5l3.1 -3.1M202.3 84.3h4.4M204.5 82.1v4.4M202.9 82.7l3.1 3.1M202.9 85.8l3.1 -3.1M203.6 84.3h4.4M205.8 82.1v4.4M204.2 82.7l3.1 3.1M204.2 85.8l3.1 -3.1M204.8 84.5h4.4M207 82.3v4.4M205.4 82.9l3.1 3.1M205.4 86l3.1 -3.1M206.1 85.8h4.4M208.2 83.6v4.4M206.7 84.3l3.1 3.1M206.7 87.4l3.1 -3.1M207.3 85.1h4.4M209.5 82.9v4.4M207.9 83.6l3.1 3.1M207.9 86.7l3.1 -3.1M208.6 85.4h4.4M210.8 83.2v4.4M209.2 83.8l3.1 3.1M209.2 86.9l3.1 -3.1M209.8 86.2h4.4M212 84v4.4M210.4 84.6l3.1 3.1M210.4 87.7l3.1 -3.1M211.1 86.6h4.4M213.2 84.4v4.4M211.7 85.1l3.1 3.1M211.7 88.2l3.1 -3.1M212.3 86.4h4.4M214.5 84.2v4.4M212.9 84.8l3.1 3.1M212.9 87.9l3.1 -3.1M213.6 87.1h4.4M215.8 84.9v4.4M214.2 85.5l3.1 3.1M214.2 88.6l3.1 -3.1M214.8 87.2h4.4M217 85v4.4M215.4 85.6l3.1 3.1M215.4 88.7l3.1 -3.1M216.1 88.1h4.4M218.2 85.9v4.4M216.7 86.6l3.1 3.1M216.7 89.7l3.1 -3.1M217.3 88.5h4.4M219.5 86.3v4.4M217.9 86.9l3.1 3.1M217.9 90l3.1 -3.1M218.6 89.4h4.4M220.8 87.2v4.4M219.2 87.8l3.1 3.1M219.2 90.9l3.1 -3.1M219.8 88.8h4.4M222 86.6v4.4M220.4 87.3l3.1 3.1M220.4 90.4l3.1 -3.1M221.1 89.9h4.4M223.2 87.7v4.4M221.7 88.4l3.1 3.1M221.7 91.5l3.1 -3.1M222.3 90.4h4.4M224.5 88.2v4.4M222.9 88.9l3.1 3.1M222.9 92l3.1 -3.1M223.6 91.9h4.4M225.8 89.7v4.4M224.2 90.3l3.1 3.1M224.2 93.4l3.1 -3.1M224.8 92.5h4.4M227 90.3v4.4M225.4 90.9l3.1 3.1M225.4 94.1l3.1 -3.1M226.1 92.9h4.4M228.2 90.7v4.4M226.7 91.3l3.1 3.1M226.7 94.4l3.1 -3.1M227.3 92.6h4.4M229.5 90.4v4.4M227.9 91l3.1 3.1M227.9 94.1l3.1 -3.1M228.6 93.9h4.4M230.8 91.7v4.4M229.2 92.3l3.1 3.1M229.2 95.4l3.1 -3.1M229.8 94.4h4.4M232 92.2v4.4M230.4 92.9l3.1 3.1M230.4 96l3.1 -3.1M231.1 95.4h4.4M233.2 93.2v4.4M231.7 93.9l3.1 3.1M231.7 97l3.1 -3.1M232.3 96.6h4.4M234.5 94.4v4.4M232.9 95l3.1 3.1M232.9 98.1l3.1 -3.1M233.6 95.9h4.4M235.8 93.7v4.4M234.2 94.4l3.1 3.1M234.2 97.5l3.1 -3.1M234.8 97.6h4.4M237 95.4v4.4M235.4 96l3.1 3.1M235.4 99.1l3.1 -3.1M236.1 97.6h4.4M238.2 95.4v4.4M236.7 96l3.1 3.1M236.7 99.1l3.1 -3.1M237.3 98h4.4M239.5 95.8v4.4M237.9 96.5l3.1 3.1M237.9 99.6l3.1 -3.1M238.6 98.7h4.4M240.8 96.5v4.4M239.2 97.2l3.1 3.1M239.2 100.3l3.1 -3.1M239.8 99.8h4.4M242 97.6v4.4M240.4 98.3l3.1 3.1M240.4 101.4l3.1 -3.1M241.1 99.2h4.4M243.2 97v4.4M241.7 97.7l3.1 3.1M241.7 100.8l3.1 -3.1M242.3 101h4.4M244.5 98.8v4.4M242.9 99.4l3.1 3.1M242.9 102.5l3.1 -3.1M243.6 101.6h4.4M245.8 99.4v4.4M244.2 100.1l3.1 3.1M244.2 103.2l3.1 -3.1M244.8 102.9h4.4M247 100.7v4.4M245.4 101.3l3.1 3.1M245.4 104.4l3.1 -3.1M246.1 102.5h4.4M248.2 100.3v4.4M246.7 101l3.1 3.1M246.7 104.1l3.1 -3.1M247.3 102.9h4.4M249.5 100.7v4.4M247.9 101.3l3.1 3.1M247.9 104.4l3.1 -3.1M248.6 104.4h4.4M250.8 102.2v4.4M249.2 102.8l3.1 3.1M249.2 105.9l3.1 -3.1M249.8 105h4.4M252 102.8v4.4M250.4 103.4l3.1 3.1M250.4 106.5l3.1 -3.1M251.1 106.7h4.4M253.2 104.5v4.4M251.7 105.1l3.1 3.1M251.7 108.2l3.1 -3.1M252.3 106.6h4.4M254.5 104.4v4.4M252.9 105l3.1 3.1M252.9 108.1l3.1 -3.1M253.6 107.3h4.4M255.8 105.1v4.4M254.2 105.8l3.1 3.1M254.2 108.9l3.1 -3.1M254.8 108h4.4M257 105.8v4.4M255.4 106.4l3.1 3.1M255.4 109.5l3.1 -3.1M256.1 108.7h4.4M258.2 106.5v4.4M256.7 107.1l3.1 3.1M256.7 110.3l3.1 -3.1M257.3 109.1h4.4M259.5 106.9v4.4M257.9 107.5l3.1 3.1M257.9 110.6l3.1 -3.1M258.6 110.3h4.4M260.8 108.1v4.4M259.2 108.8l3.1 3.1M259.2 111.9l3.1 -3.1M259.8 110.7h4.4M262 108.5v4.4M260.4 109.1l3.1 3.1M260.4 112.2l3.1 -3.1M261.1 112.1h4.4M263.2 109.9v4.4M261.7 110.6l3.1 3.1M261.7 113.7l3.1 -3.1M262.3 112.8h4.4M264.5 110.6v4.4M262.9 111.2l3.1 3.1M262.9 114.4l3.1 -3.1M263.6 112.8h4.4M265.8 110.6v4.4M264.2 111.2l3.1 3.1M264.2 114.3l3.1 -3.1M264.8 114.7h4.4M267 112.5v4.4M265.4 113.1l3.1 3.1M265.4 116.2l3.1 -3.1M37.2 28.5h4.4M39.4 26.3v4.4M37.8 26.9l3.1 3.1M37.8 30.1l3.1 -3.1M74.8 38.8h4.4M77 36.6v4.4M75.4 37.2l3.1 3.1M75.4 40.4l3.1 -3.1M146.6 58.5h4.4M148.8 56.3v4.4M147.2 56.9l3.1 3.1M147.2 60.1l3.1 -3.1M160.7 62.8h4.4M162.9 60.6v4.4M161.3 61.2l3.1 3.1M161.3 64.4l3.1 -3.1M72.3 53.3h4.4M74.5 51.1v4.4M72.9 51.7l3.1 3.1M72.9 54.9l3.1 -3.1M73.8 52.2h4.4M76 50v4.4M74.4 50.6l3.1 3.1M74.4 53.8l3.1 -3.1M293.7 198.5h4.4M295.9 196.3v4.4M294.3 196.9l3.1 3.1M294.3 200.1l3.1 -3.1M295 199.4h4.4M297.2 197.2v4.4M295.6 197.8l3.1 3.1M295.6 201l3.1 -3.1M296.4 200h4.4M298.6 197.8v4.4M297 198.4l3.1 3.1M297 201.6l3.1 -3.1M299.1 193.5h4.4M301.3 191.3v4.4M299.7 191.9l3.1 3.1M299.7 195.1l3.1 -3.1M264.9 302.9h4.4M267.1 300.7v4.4M265.5 301.3l3.1 3.1M265.5 304.5l3.1 -3.1M273.5 302.9h4.4M275.7 300.7v4.4M274.1 301.3l3.1 3.1M274.1 304.5l3.1 -3.1M290.4 302.9h4.4M292.6 300.7v4.4M291 301.3l3.1 3.1M291 304.5l3.1 -3.1M304.3 302.9h4.4M306.5 300.7v4.4M304.9 301.3l3.1 3.1M304.9 304.5l3.1 -3.1M306.8 302.9h4.4M309 300.7v4.4M307.4 301.3l3.1 3.1M307.4 304.5l3.1 -3.1M361.5 302.9h4.4M363.7 300.7v4.4M362.1 301.3l3.1 3.1M362.1 304.5l3.1 -3.1M312.2 302.9h4.4M314.4 300.7v4.4M312.8 301.3l3.1 3.1M312.8 304.5l3.1 -3.1M313.9 302.9h4.4M316.1 300.7v4.4M314.5 301.3l3.1 3.1M314.5 304.5l3.1 -3.1M315.6 302.9h4.4M317.8 300.7v4.4M316.2 301.3l3.1 3.1M316.2 304.5l3.1 -3.1M317.3 302.9h4.4M319.5 300.7v4.4M317.9 301.3l3.1 3.1M317.9 304.5l3.1 -3.1M319 302.9h4.4M321.2 300.7v4.4M319.6 301.3l3.1 3.1M319.6 304.5l3.1 -3.1M320.7 302.9h4.4M322.9 300.7v4.4M321.3 301.3l3.1 3.1M321.3 304.5l3.1 -3.1M322.4 302.9h4.4M324.6 300.7v4.4M323 301.3l3.1 3.1M323 304.5l3.1 -3.1M324.1 302.9h4.4M326.3 300.7v4.4M324.7 301.3l3.1 3.1M324.7 304.5l3.1 -3.1M325.8 302.9h4.4M328 300.7v4.4M326.4 301.3l3.1 3.1M326.4 304.5l3.1 -3.1M327.5 302.9h4.4M329.7 300.7v4.4M328.1 301.3l3.1 3.1M328.1 304.5l3.1 -3.1M329.2 302.9h4.4M331.4 300.7v4.4M329.8 301.3l3.1 3.1M329.8 304.5l3.1 -3.1M330.9 302.9h4.4M333.1 300.7v4.4M331.5 301.3l3.1 3.1M331.5 304.5l3.1 -3.1M332.6 302.9h4.4M334.8 300.7v4.4M333.2 301.3l3.1 3.1M333.2 304.5l3.1 -3.1M334.3 302.9h4.4M336.5 300.7v4.4M334.9 301.3l3.1 3.1M334.9 304.5l3.1 -3.1M336 302.9h4.4M338.2 300.7v4.4M336.6 301.3l3.1 3.1M336.6 304.5l3.1 -3.1" stroke="#0000ff" stroke-width="0.75" fill="none"/>
<path d="M37.8 62.8h3.4" stroke="#0000ff" stroke-width="1" opacity="0.6"/>
<path d="M414.7 301.6v3" stroke="#0000ff" stroke-width="1" opacity="0.6"/>
<rect x="39.5" y="6.2" width="425.5" height="297.1" fill="none" stroke="#222" stroke-width="1.1"/>
<path d="M82.1 303.4v-8.6M82.1 6.2v8.6M167.2 303.4v-8.6M167.2 6.2v8.6M252.3 303.4v-8.6M252.3 6.2v8.6M337.4 303.4v-8.6M337.4 6.2v8.6M422.5 303.4v-8.6M422.5 6.2v8.6M124.6 303.4v-4.3M124.6 6.2v4.3M209.7 303.4v-4.3M209.7 6.2v4.3M294.8 303.4v-4.3M294.8 6.2v4.3M379.9 303.4v-4.3M379.9 6.2v4.3M39.5 253.9h8.6M465 253.9h-8.6M39.5 204.3h8.6M465 204.3h-8.6M39.5 154.8h8.6M465 154.8h-8.6M39.5 105.3h8.6M465 105.3h-8.6M39.5 55.8h8.6M465 55.8h-8.6M39.5 278.6h4.3M465 278.6h-4.3M39.5 229.1h4.3M465 229.1h-4.3M39.5 179.6h4.3M465 179.6h-4.3M39.5 130.1h4.3M465 130.1h-4.3M39.5 80.5h4.3M465 80.5h-4.3M39.5 31h4.3M465 31h-4.3" stroke="#222" stroke-width="0.9" fill="none"/>
<text x="38.2" y="321.6" font-size="13" text-anchor="middle">0.57</text>
<text x="124.6" y="321.6" font-size="13" text-anchor="middle">0.58</text>
<text x="207.9" y="321.6" font-size="13" text-anchor="middle">0.59</text>
<text x="291.5" y="321.6" font-size="13" text-anchor="middle">0.6</text>
<text x="381" y="321.6" font-size="13" text-anchor="middle">0.61</text>
<text x="32.7" y="308.3" font-size="13" text-anchor="end">0</text>
<text x="32.7" y="258.1" font-size="13" text-anchor="end">0.1</text>
<text x="32.7" y="208.5" font-size="13" text-anchor="end">0.2</text>
<text x="32.7" y="159" font-size="13" text-anchor="end">0.3</text>
<text x="32.7" y="109.5" font-size="13" text-anchor="end">0.4</text>
<text x="32.7" y="60" font-size="13" text-anchor="end">0.5</text>
<text x="32.7" y="10.4" font-size="13" text-anchor="end">0.6</text>
<text x="176.4" y="30.1" font-size="20">(a)</text>
<text transform="translate(13.1 175.7) rotate(-90)" font-size="18" text-anchor="middle">M</text>
<text x="232" y="329.9" font-size="19.5">e</text>
<text x="242" y="334.9" font-size="17.3">tot</text>
<rect x="337.2" y="27.4" width="99.6" height="55.8" fill="#fff" stroke="#222" stroke-width="0.9"/>
<text x="367.8" y="39.7" font-size="12">MD</text>
<text x="367.8" y="51.8" font-size="12">LB</text>
<text x="367.8" y="63.9" font-size="12">CH</text>
<text x="367.8" y="76.4" font-size="12">CH - Entropy</text>
<path d="M350.5 35.7h0" stroke="#000000" stroke-width="1.90" stroke-linecap="round" fill="none"/>
<path d="M342 47.7h17" stroke="#ff0000" stroke-width="1.1"/>
<path d="M350.5 57.8l2.2 2.2l-2.2 2.2l-2.2 -2.2z" fill="#00ff00"/>
<path d="M348 73.4h5M350.5 70.9v5M348.7 71.6l3.5 3.5M348.7 75.2l3.5 -3.5" stroke="#0000ff" stroke-width="0.8" fill="none"/>
<path d="M521.5 37.7h0M522.1 37.4h0M522.7 37.2h0M523.3 37.2h0M523.9 37.1h0M524.5 37.6h0M525.1 38.3h0M525.7 38.2h0M526.3 38.5h0M526.9 38h0M527.5 38.2h0M528.1 38.3h0M528.7 38h0M529.3 38.4h0M529.9 38.5h0M531.7 39.9h0M532.3 40.3h0M532.9 40.2h0M533.5 40.2h0M534.1 40.3h0M534.7 40.4h0M535.9 41.3h0M536.5 41.5h0M537.1 41.1h0M537.7 41.2h0M538.3 41.1h0M538.9 41.5h0M539.5 41.7h0M540.1 42.1h0M540.7 42h0M541.3 42.5h0M541.9 42.8h0M542.5 42.7h0M543.1 42.7h0M543.7 43.8h0M544.3 43.7h0M544.9 43.8h0M545.5 44.1h0M546.1 44.1h0M546.7 44.3h0M547.3 44.4h0M547.9 44.6h0M548.5 44.8h0M549.1 44.4h0M549.7 44.3h0M550.3 44.6h0M550.9 44.4h0M551.5 45h0M552.1 44.8h0M552.7 45.2h0M553.3 45.5h0M553.9 45.1h0M554.5 45.6h0M555.1 46.1h0M555.7 45.8h0M556.3 45.9h0M558.1 47h0M558.7 47.4h0M559.3 47h0M559.9 47.4h0M560.5 47.9h0M561.1 47.9h0M561.7 48h0M562.9 48.1h0M564.1 48.6h0M564.7 48.5h0M565.3 48.7h0M565.9 48.1h0M566.5 48.5h0M567.1 48.9h0M568.3 49.1h0M569.5 50.5h0M570.1 50.7h0M570.7 50.2h0M571.3 50.2h0M571.9 50.2h0M572.5 50.8h0M573.1 50.5h0M573.7 50.8h0M574.3 51.7h0M574.9 51.7h0M575.5 52.2h0M576.1 51.9h0M576.7 52.3h0M577.3 52.2h0M577.9 52.1h0M578.5 52.4h0M579.1 52.4h0M579.7 52.4h0M580.3 52.7h0M581.5 53.1h0M582.1 53.8h0M582.7 54.1h0M583.3 53.8h0M583.9 53.6h0M584.5 54h0M585.1 53.3h0M585.7 53.7h0M587.5 55.1h0M588.1 55.3h0M588.7 55h0M589.3 55h0M589.9 55.4h0M590.5 55.4h0M591.1 55.8h0M591.7 56.2h0M592.3 56.1h0M592.9 56.2h0M593.5 57h0M594.1 57.2h0M594.7 56.8h0M595.3 57.2h0M595.9 57.8h0M596.5 57.5h0M597.1 57.7h0M597.7 57.6h0M598.9 57.6h0M599.5 57.9h0M600.1 58h0M600.7 57.8h0M601.3 58.3h0M601.9 58.5h0M602.5 59h0M603.1 59h0M603.7 59.2h0M604.3 59.3h0M604.9 59.6h0M605.5 59.7h0M606.1 60.1h0M607.3 60.5h0M607.9 60.9h0M608.5 61.3h0M609.1 61.4h0M609.7 61.3h0M610.3 61.5h0M610.9 61.4h0M611.5 61.2h0M612.1 62.1h0M612.7 62h0M613.3 62.2h0M613.9 62.4h0M614.5 62.4h0M615.1 62.5h0M615.7 63h0M616.3 63.3h0M616.9 63.4h0M617.5 63.5h0M618.1 64.2h0M619.3 64.1h0M620.5 65.1h0M621.1 65.4h0M621.7 65.5h0M622.3 65.4h0M622.9 65.6h0M624.1 66.3h0M624.7 66.6h0M625.3 66.3h0M625.9 66.5h0M626.5 66.8h0M627.1 66.7h0M627.7 66.6h0M628.3 66.8h0M628.9 66.9h0M629.5 67.1h0M630.1 67.2h0M630.7 67.5h0M631.3 67.4h0M631.9 67.9h0M633.1 68.7h0M633.7 68.9h0M634.3 69.2h0M634.9 68.9h0M635.5 68.8h0M636.1 69.3h0M636.7 69.8h0M637.3 69.5h0M637.9 70.1h0M638.5 69.9h0M639.1 70.6h0M639.7 71h0M640.3 71h0M640.9 71h0M641.5 71.2h0M642.1 70.8h0M642.7 71.5h0M643.3 71.6h0M643.9 71.8h0M644.5 71.5h0M645.7 72.6h0M646.3 72.9h0M646.9 72.9h0M647.5 72.9h0M648.1 72.7h0M654.7 77h0M655.3 77.5h0M655.9 77.2h0M656.5 77.5h0M657.1 77.6h0M657.7 77.9h0M659.5 79.6h0M660.1 79.9h0M660.7 79.8h0M661.3 80h0M661.9 80.1h0M662.5 80.4h0M663.1 81h0M663.7 81h0M664.3 81.4h0M664.9 81.3h0M665.5 81.2h0M666.1 81.5h0M666.7 82h0M667.3 81.8h0M667.9 81.8h0M668.5 81.9h0M669.1 82.6h0M670.3 83h0M671.5 83.6h0M672.1 84h0M672.7 83.7h0M673.3 83.9h0M673.9 83.7h0M674.5 84.1h0M675.1 84.2h0M675.7 84.4h0M676.3 84.7h0M676.9 84.4h0M677.5 84.4h0M678.1 84.9h0M678.7 85.2h0M679.9 85.1h0M681.7 86.6h0M682.3 87.3h0M682.9 87h0M683.5 87.3h0M685.3 88.6h0M685.9 88.9h0M686.5 89h0M687.1 89h0M687.7 89.2h0M688.3 89.5h0M688.9 90.1h0M689.5 90.8h0M690.1 90.3h0M690.7 90.7h0M691.9 91.1h0M692.5 91.8h0M693.7 92h0M695.5 93.5h0M696.1 93.9h0M696.7 93.8h0M697.3 94.3h0M699.1 95.7h0M699.7 96.2h0M700.3 96h0M700.9 96.2h0M702.1 97.2h0M702.7 97.3h0M703.3 97.5h0M703.9 97.3h0M706.9 99.9h0M707.5 100.4h0M708.1 100.4h0M708.7 100.6h0M709.3 100.8h0M709.9 101.4h0M710.5 101.7h0M711.1 101.8h0M711.7 101.7h0M713.5 102.9h0M714.1 103.5h0M714.7 103.4h0M715.3 103.1h0M715.9 103.5h0M716.5 103.2h0M717.1 103.8h0M719.5 105.9h0M720.1 106.3h0M720.7 106.4h0M721.3 106.5h0M721.9 106.8h0M722.5 107.3h0M723.1 107.3h0M723.7 107.6h0M724.3 107.6h0M724.9 107.4h0M725.5 107.8h0M726.7 108.7h0M727.3 108.9h0M727.9 109h0M728.5 109.1h0M730.3 110.2h0M730.9 110.5h0M731.5 110.6h0M732.1 110.8h0M732.7 110.7h0M733.3 111.2h0M733.9 111.8h0M734.5 112h0M735.1 111.3h0M735.7 112h0M736.3 112.2h0M736.9 112.4h0M737.5 112.7h0M738.1 113.4h0M739.3 113.8h0M739.9 114.3h0M740.5 114h0M741.1 114.1h0" stroke="#000000" stroke-width="1.44" stroke-linecap="round" fill="none"/>
<path d="M520.9 37h0M530.5 38.9h0M531.1 39.1h0M535.3 40.9h0M556.9 46.4h0M557.5 46.5h0M562.3 48.5h0M563.5 47.9h0M567.7 49.1h0M568.9 50.1h0M580.9 53h0M586.3 54.3h0M586.9 54.7h0M598.3 57.1h0M606.7 60.3h0M618.7 64h0M619.9 64.5h0M623.5 66h0M632.5 68.3h0M645.1 72.3h0M648.7 73.5h0M649.3 73.8h0M649.9 74.3h0M650.5 74.7h0M651.1 74.8h0M651.7 75.3h0M652.3 75.5h0M652.9 76h0M653.5 76.5h0M654.1 76.5h0M658.3 78.6h0M658.9 79.1h0M669.7 82.8h0M670.9 83.4h0M679.3 85.5h0M680.5 86h0M681.1 86.2h0M684.1 88.1h0M684.7 88.1h0M691.3 90.9h0M693.1 91.9h0M694.3 92.5h0M694.9 92.9h0M697.9 94.7h0M698.5 95h0M701.5 96.5h0M704.5 98h0M705.1 98.4h0M705.7 98.6h0M706.3 99.4h0M712.3 102.3h0M712.9 102.3h0M717.7 104.2h0M718.3 105.1h0M718.9 105.7h0M726.1 108.3h0M729.1 109.6h0M729.7 109.6h0M738.7 113.6h0M741.7 114.6h0M742 116.5h0M743 114.6h0M744 116.7h0M745 116.8h0M746 118.6h0M747 121h0M748 121h0M749 126.7h0M750 123.9h0M751 125.3h0M752 127.6h0M753 125.6h0M754 125.1h0M755 126.2h0M756 126.8h0M757 128.8h0M758 129.4h0M759 128.4h0M760 130.1h0M761 130.4h0M762 129.3h0M763 133.4h0M764 133.9h0M765 134.1h0M766 134.3h0M767 135.5h0M768 135.9h0M769 136.2h0M770 135.7h0M746.4 121.4h0M757.3 128.2h0M768.3 137.8h0M773.7 136.4h0M776.5 146h0M781.9 140.5h0M779 139h0M783.5 142h0M786 151.4h0M788 154h0M789.5 157h0M791.5 159.6h0M793 161h0M795 164.5h0M797 166.5h0M797.5 170h0M799.7 173.3h0M801 174.5h0M803.8 178.8h0M802.4 187h0M806.5 185.6h0M803.8 195.2h0M807.9 192.4h0M809.3 200.6h0M811.5 204.7h0M812 211.6h0M810.6 214.3h0M813.4 219.8h0M772 141h0M775 143.5h0M778 147.5h0M784.5 147h0M787 152h0M790 155h0M794 160.5h0M798.5 168h0M800.5 177h0M805 182h0M814.7 283h0M815.7 287.1h0M816.7 286.4h0M817.7 288.6h0M818.7 282h0M819.7 284h0M820.7 284.3h0M821.7 283.7h0M822.7 282.5h0M823.7 281.5h0M824.7 280.4h0M825.7 282.2h0M826.7 280.6h0M827.7 278.5h0M828.7 280.2h0M829.7 277.5h0M830.7 276.7h0M831.7 276.1h0M832.7 276.5h0M833.7 277.3h0M834.7 279.4h0M835.7 280.1h0M836.7 280.3h0M837.7 278.5h0M838.7 279.5h0M839.7 278.4h0M840.7 278.1h0M841.7 277.7h0M842.7 275.2h0M843.7 277.7h0M844.7 272.4h0M845.7 272.4h0M846.7 274.8h0M847.7 272.5h0M848.7 274.5h0M849.7 276.3h0M850.7 276.7h0M851.7 279h0M852.7 279.4h0M853.7 279.5h0M854.7 280.8h0M855.7 282.1h0M856.7 282.7h0M857.7 282.6h0M858.7 283.1h0M859.7 284.9h0M860.7 283.3h0M861.7 284.4h0M862.7 282.8h0M863.7 287h0M864.7 287.3h0M865.7 284.1h0M866.7 289.1h0M867.7 285.4h0M868.7 290.7h0M869.7 289.6h0M870.7 291h0M871.7 291h0M872.7 293.2h0M873.7 290.1h0M874.7 294.7h0M875.7 290.2h0M876.7 291h0M877.7 289.4h0M878.7 287.5h0M879.7 287.8h0M880.7 291.9h0M881.7 290.9h0M882.7 291.4h0M883.7 292.4h0M884.7 293.9h0M885.7 290.8h0M886.7 288.9h0M887.7 289.1h0M888.7 289h0M889.7 291.4h0M890.7 287.8h0M891.7 288.2h0M892.7 290.3h0M893.7 290h0M894.7 296.5h0M895.7 295.9h0M896.7 296.2h0M897.7 295.6h0M898.7 294.8h0M899.7 294h0M900.7 294.3h0M901.7 292.1h0M902.7 295.5h0M903.7 293h0M904.7 292.3h0M905.7 291.7h0M906.7 291.2h0M907.7 287.2h0M908.7 288.8h0M909.7 287.4h0M910.7 289.6h0M911.7 284.7h0M912.7 285.1h0M913.7 285.2h0M914.7 283.3h0M915.7 282h0M916.7 283.6h0M917.7 287.4h0M918.7 289.8h0M919.7 291h0M920.7 286.6h0M921.7 283.9h0M922.7 288.5h0M923.7 285h0M924.7 285.3h0M925.7 281.3h0M926.7 285.4h0M927.7 290.4h0M928.7 292.7h0M929.7 292.4h0M930.7 287.7h0M931.7 288.4h0M932.7 286.8h0M933.7 285.8h0M934.7 290.5h0M935.7 287.3h0M936.7 284.2h0M937.7 286.4h0M938.7 288.9h0M939.7 287h0M940.7 286.3h0M941.7 287.6h0M942.7 287.5h0M943.7 286.9h0M944.7 286.3h0M887.7 296.5h0M817.5 290.9h0" stroke="#000000" stroke-width="1.60" stroke-linecap="round" fill="none"/>
<path d="M520.9 38.7L522.3 39.1L523.8 39.6L525.2 40L526.7 40.4L528.1 40.8L529.5 41.3L531 41.7L532.4 42.1L533.9 42.5L535.3 42.9L536.7 43.3L538.2 43.7L539.6 44.1L541.1 44.6L542.5 45L544 45.4L545.4 45.8L546.9 46.2L548.3 46.6L549.7 47L551.2 47.3L552.6 47.7L554.1 48.1L555.5 48.5L557 48.9L558.4 49.3L559.9 49.7L561.3 50L562.8 50.4L564.2 50.8L565.7 51.2L567.1 51.5L568.6 51.9L570.1 52.2L571.5 52.6L573 52.9L574.5 53.2L575.9 53.6L577.4 53.9L578.8 54.2L580.3 54.6L581.8 54.9L583.2 55.2L584.7 55.6L586.2 55.9L587.6 56.2L589.1 56.6L590.6 56.9L592 57.2L593.5 57.6L594.9 57.9L596.4 58.3L597.8 58.7L599.3 59L600.7 59.4L602.2 59.8L603.6 60.2L605.1 60.6L606.5 61L607.9 61.4L609.4 61.9L610.8 62.3L612.2 62.7L613.7 63.2L615.1 63.6L616.5 64.1L618 64.6L619.4 65L620.8 65.5L622.2 66L623.7 66.5L625.1 67L626.5 67.5L627.9 68L629.3 68.5L630.7 69L632.1 69.5L633.6 70L635 70.6L636.4 71.1L637.8 71.7L639.2 72.2L640.6 72.7L642 73.3L643.4 73.8L644.7 74.4L646.1 75L647.5 75.5L648.9 76.1L650.3 76.7L651.6 77.3L653 77.9L654.4 78.6L655.7 79.2L657.1 79.9L658.4 80.5L659.8 81.2L661.1 81.8L662.5 82.5L663.8 83.1L665.2 83.8L666.5 84.4L667.9 85.1L669.2 85.8L670.6 86.4L671.9 87.1L673.3 87.8L674.6 88.5L675.9 89.2L677.2 89.9L678.5 90.6L679.8 91.3L681.1 92.1L682.4 92.8L683.7 93.6L685 94.4L686.3 95.1L687.6 95.9L688.9 96.7L690.1 97.5L691.4 98.3L692.7 99.1L694 99.9L695.2 100.7L696.5 101.5L697.7 102.3L699 103.1L700.3 103.9L701.5 104.8L702.8 105.6L704.1 106.4L705.3 107.2L706.5 108.1L707.8 108.9L709 109.8L710.2 110.6L711.5 111.5L712.7 112.4L713.9 113.3L715.1 114.2L716.2 115.1L717.4 116L718.6 117L719.7 117.9L720.9 118.9L722.1 119.9L723.2 120.8L724.3 121.8L725.5 122.8L726.6 123.8L727.7 124.8L728.8 125.9L729.8 126.9L730.9 127.9L732 129L733 130L734.1 131.1L735.1 132.2L736.2 133.3L737.2 134.4L738.2 135.5L739.2 136.6L740.3 137.7L741.3 138.8L742.3 139.9L743.3 141.1L744.2 142.2L745.2 143.3L746.2 144.4L747.2 145.6L748.2 146.7L749.1 147.9L750 149.1L750.9 150.3L751.8 151.5L752.6 152.7L753.5 154L754.3 155.2L755.1 156.5L756 157.7L756.8 159L757.5 160.3L758.3 161.6L759.1 162.9L759.9 164.2L760.6 165.5L761.4 166.8L762.1 168.1L762.8 169.4L763.4 170.8L764.1 172.1L764.7 173.5L765.3 174.8L765.9 176.2L766.4 177.6L767 179L767.5 180.4L768 181.8L768.6 183.2L769 184.7L769.5 186.1L770 187.5L770.4 188.9L770.9 190.4L771.3 191.8L771.7 193.2L772.1 194.7L772.5 196.1L772.9 197.6L773.3 199L773.7 200.5L774 201.9L774.4 203.4L774.8 204.9L775.1 206.3L775.5 207.8L775.8 209.2L776.1 210.7L776.4 212.2L776.7 213.6L777 215.1L777.2 216.6L777.4 218.1L777.6 219.6L777.8 221L778 222.5L778.2 224L778.4 225.5L778.5 227L778.7 228.5L778.8 230L778.9 231.5L782.8 302.4L946.4 302.4" stroke="#ff0000" stroke-width="1.2" fill="none" stroke-linejoin="round"/>
<path d="M520.8 27l2.3 2.3l-2.3 2.3l-2.3 -2.3zM525.1 27.4l2.3 2.3l-2.3 2.3l-2.3 -2.3zM529.3 28.8l2.3 2.3l-2.3 2.3l-2.3 -2.3zM533.6 29.4l2.3 2.3l-2.3 2.3l-2.3 -2.3zM537.8 30.8l2.3 2.3l-2.3 2.3l-2.3 -2.3zM542.1 31.1l2.3 2.3l-2.3 2.3l-2.3 -2.3zM546.3 32.9l2.3 2.3l-2.3 2.3l-2.3 -2.3zM550.6 33.9l2.3 2.3l-2.3 2.3l-2.3 -2.3zM554.8 34.4l2.3 2.3l-2.3 2.3l-2.3 -2.3zM559.1 35.4l2.3 2.3l-2.3 2.3l-2.3 -2.3zM563.4 36.4l2.3 2.3l-2.3 2.3l-2.3 -2.3zM567.6 37.5l2.3 2.3l-2.3 2.3l-2.3 -2.3zM571.9 38.1l2.3 2.3l-2.3 2.3l-2.3 -2.3zM576.1 40.2l2.3 2.3l-2.3 2.3l-2.3 -2.3zM580.4 40.5l2.3 2.3l-2.3 2.3l-2.3 -2.3zM584.6 41.6l2.3 2.3l-2.3 2.3l-2.3 -2.3zM588.9 42.6l2.3 2.3l-2.3 2.3l-2.3 -2.3zM593.2 43.9l2.3 2.3l-2.3 2.3l-2.3 -2.3zM597.4 45.5l2.3 2.3l-2.3 2.3l-2.3 -2.3zM601.7 45.8l2.3 2.3l-2.3 2.3l-2.3 -2.3zM605.9 47l2.3 2.3l-2.3 2.3l-2.3 -2.3zM610.2 49.1l2.3 2.3l-2.3 2.3l-2.3 -2.3zM614.4 50.2l2.3 2.3l-2.3 2.3l-2.3 -2.3zM618.7 51.3l2.3 2.3l-2.3 2.3l-2.3 -2.3zM622.9 53.9l2.3 2.3l-2.3 2.3l-2.3 -2.3zM627.2 54.9l2.3 2.3l-2.3 2.3l-2.3 -2.3zM631.5 55.7l2.3 2.3l-2.3 2.3l-2.3 -2.3zM635.7 57.5l2.3 2.3l-2.3 2.3l-2.3 -2.3zM640 60.2l2.3 2.3l-2.3 2.3l-2.3 -2.3zM644.2 62.5l2.3 2.3l-2.3 2.3l-2.3 -2.3zM648.5 64.5l2.3 2.3l-2.3 2.3l-2.3 -2.3zM652.7 65.5l2.3 2.3l-2.3 2.3l-2.3 -2.3zM657 67.3l2.3 2.3l-2.3 2.3l-2.3 -2.3zM661.7 69.3l2.3 2.3l-2.3 2.3l-2.3 -2.3zM665.9 70l2.3 2.3l-2.3 2.3l-2.3 -2.3zM670.1 71.7l2.3 2.3l-2.3 2.3l-2.3 -2.3zM674.4 73l2.3 2.3l-2.3 2.3l-2.3 -2.3zM678.6 76.1l2.3 2.3l-2.3 2.3l-2.3 -2.3zM682.8 77.8l2.3 2.3l-2.3 2.3l-2.3 -2.3zM687 79l2.3 2.3l-2.3 2.3l-2.3 -2.3zM691.2 80.6l2.3 2.3l-2.3 2.3l-2.3 -2.3zM695.5 82l2.3 2.3l-2.3 2.3l-2.3 -2.3zM700 83.2l2.3 2.3l-2.3 2.3l-2.3 -2.3zM704.3 82.3l2.3 2.3l-2.3 2.3l-2.3 -2.3zM708.5 82.8l2.3 2.3l-2.3 2.3l-2.3 -2.3zM712.7 91.3l2.3 2.3l-2.3 2.3l-2.3 -2.3zM716.9 92l2.3 2.3l-2.3 2.3l-2.3 -2.3zM721.1 93.3l2.3 2.3l-2.3 2.3l-2.3 -2.3zM725.5 92.5l2.3 2.3l-2.3 2.3l-2.3 -2.3zM729.8 89.9l2.3 2.3l-2.3 2.3l-2.3 -2.3zM734 94.2l2.3 2.3l-2.3 2.3l-2.3 -2.3zM738.2 96.2l2.3 2.3l-2.3 2.3l-2.3 -2.3zM742.4 91.6l2.3 2.3l-2.3 2.3l-2.3 -2.3zM746.7 94.7l2.3 2.3l-2.3 2.3l-2.3 -2.3zM751.2 94.7l2.3 2.3l-2.3 2.3l-2.3 -2.3zM755.4 97l2.3 2.3l-2.3 2.3l-2.3 -2.3zM759.7 99.7l2.3 2.3l-2.3 2.3l-2.3 -2.3zM763.9 100.4l2.3 2.3l-2.3 2.3l-2.3 -2.3zM768.1 98l2.3 2.3l-2.3 2.3l-2.3 -2.3zM772.3 103.1l2.3 2.3l-2.3 2.3l-2.3 -2.3zM776.6 106.8l2.3 2.3l-2.3 2.3l-2.3 -2.3zM780.8 104l2.3 2.3l-2.3 2.3l-2.3 -2.3zM785 109.4l2.3 2.3l-2.3 2.3l-2.3 -2.3zM789.6 113.9l2.3 2.3l-2.3 2.3l-2.3 -2.3zM793.8 115.6l2.3 2.3l-2.3 2.3l-2.3 -2.3zM798 115.6l2.3 2.3l-2.3 2.3l-2.3 -2.3zM802.4 124.2l2.3 2.3l-2.3 2.3l-2.3 -2.3zM806.6 124.6l2.3 2.3l-2.3 2.3l-2.3 -2.3zM814.7 300.1l2.3 2.3l-2.3 2.3l-2.3 -2.3z" fill="#00ff00"/>
<path d="M520.8 41.8h0M525.1 42.8h0M529.3 43.7h0M533.6 44.5h0M537.8 45.9h0M542.1 46.6h0M546.3 48.1h0M550.6 49.4h0M554.8 49.8h0M559.1 51.2h0M563.4 52.4h0M567.6 52.8h0M571.9 54.5h0M576.1 55.6h0M580.4 56h0M584.6 57h0M588.9 58.4h0M593.2 59h0M601.7 62.6h0M605.9 64.2h0M610.2 65.1h0M614.4 65.7h0M618.7 66.7h0M622.9 67.8h0M627.2 69h0M631.5 70.6h0M635.7 71.5h0M640 72.7h0M644.2 73.6h0M652.7 76.5h0M657 77.1h0M648.5 66.6h0M661.7 79.1h0M665.9 80.7h0M670.1 80.4h0M674.4 82.9h0M678.6 84.3h0M682.8 84.6h0M687 87.5h0M691.2 87.2h0M695.5 90h0M700 91.4h0M704.3 94.3h0M708.5 93.4h0M712.7 94.4h0M716.9 96.5h0M721.1 95.9h0M725.5 100.7h0M729.8 102.7h0M734 102.4h0M738.2 104.4h0M742.4 107.9h0M746.7 109.5h0M751.2 108.6h0M755.4 112.8h0M759.7 113.9h0M763.9 115.5h0M768.1 117.1h0M772.3 118.1h0M776.6 120.4h0M780.8 124h0M785 124.8h0M789.6 127.2h0M793.8 129.4h0M798 132.4h0M802.4 138.3h0M806.6 144.6h0M814.7 302.6h0M819 302.6h0M823.4 302.6h0M827.7 302.6h0M832 302.6h0M836.4 302.6h0M840.7 302.6h0" stroke="#0000ff" stroke-width="3.50" stroke-linecap="round" fill="none"/>
<rect x="520.8" y="6.2" width="425.6" height="297.1" fill="none" stroke="#222" stroke-width="1.1"/>
<path d="M563.4 303.4v-8.6M563.4 6.2v8.6M648.5 303.4v-8.6M648.5 6.2v8.6M733.6 303.4v-8.6M733.6 6.2v8.6M818.7 303.4v-8.6M818.7 6.2v8.6M903.8 303.4v-8.6M903.8 6.2v8.6M605.9 303.4v-4.3M605.9 6.2v4.3M691 303.4v-4.3M691 6.2v4.3M776.2 303.4v-4.3M776.2 6.2v4.3M861.3 303.4v-4.3M861.3 6.2v4.3M520.8 302.5h8.6M946.4 302.5h-8.6M520.8 253.1h8.6M946.4 253.1h-8.6M520.8 203.8h8.6M946.4 203.8h-8.6M520.8 154.4h8.6M946.4 154.4h-8.6M520.8 105h8.6M946.4 105h-8.6M520.8 55.6h8.6M946.4 55.6h-8.6M520.8 277.8h4.3M946.4 277.8h-4.3M520.8 228.4h4.3M946.4 228.4h-4.3M520.8 179.1h4.3M946.4 179.1h-4.3M520.8 129.7h4.3M946.4 129.7h-4.3M520.8 80.3h4.3M946.4 80.3h-4.3M520.8 30.9h4.3M946.4 30.9h-4.3" stroke="#222" stroke-width="0.9" fill="none"/>
<text x="563.7" y="322.2" font-size="13" text-anchor="middle">0.56</text>
<text x="647.7" y="322.2" font-size="13" text-anchor="middle">0.58</text>
<text x="733.6" y="322.2" font-size="13" text-anchor="middle">0.6</text>
<text x="818.7" y="322.2" font-size="13" text-anchor="middle">0.62</text>
<text x="903.8" y="322.2" font-size="13" text-anchor="middle">0.64</text>
<text x="514" y="308.1" font-size="13" text-anchor="end">0</text>
<text x="514" y="257.3" font-size="13" text-anchor="end">0.1</text>
<text x="514" y="207.9" font-size="13" text-anchor="end">0.2</text>
<text x="514" y="158.6" font-size="13" text-anchor="end">0.3</text>
<text x="514" y="109.2" font-size="13" text-anchor="end">0.4</text>
<text x="514" y="59.8" font-size="13" text-anchor="end">0.5</text>
<text x="514" y="10.4" font-size="13" text-anchor="end">0.6</text>
<text x="659.2" y="30.3" font-size="20">(b)</text>
<text transform="translate(494.7 176.3) rotate(-90)" font-size="18" text-anchor="middle">M</text>
<text x="699.3" y="333.7" font-size="19.5">e</text>
<text x="709.3" y="339.4" font-size="17.3">tot</text>
<rect x="818.3" y="27.4" width="99.6" height="55.8" fill="#fff" stroke="#222" stroke-width="0.9"/>
<text x="848.9" y="39.7" font-size="12">MD</text>
<text x="848.9" y="51.8" font-size="12">LB</text>
<text x="848.9" y="63.9" font-size="12">CH</text>
<text x="848.9" y="76.4" font-size="12">CH - Entropy</text>
<path d="M831.6 35.7h0" stroke="#000000" stroke-width="1.60" stroke-linecap="round" fill="none"/>
<path d="M823.1 47.7h17" stroke="#ff0000" stroke-width="1.1"/>
<path d="M831.6 57.8l2.2 2.2l-2.2 2.2l-2.2 -2.2z" fill="#00ff00"/>
<path d="M831.6 73.4h0" stroke="#0000ff" stroke-width="3.20" stroke-linecap="round" fill="none"/>
<path d="M40.7 395.5h0M41.3 395.8h0M41.9 395.6h0M42.5 395.8h0M43.7 396.8h0M44.9 396.4h0M46.1 396.9h0M46.7 397.1h0M47.3 397.4h0M47.9 397.5h0M48.5 397.2h0M49.7 397.7h0M50.3 397.4h0M50.9 397.7h0M51.5 397.8h0M52.1 397.8h0M52.7 398h0M53.9 398.7h0M54.5 399.2h0M55.1 399.1h0M55.7 399h0M56.3 399.2h0M56.9 399.2h0M57.5 399.5h0M58.1 399.9h0M58.7 399.9h0M59.3 400h0M59.9 400.1h0M60.5 400h0M61.1 400.3h0M61.7 400.2h0M62.3 400.6h0M62.9 400.7h0M63.5 400.5h0M64.1 401.1h0M64.7 401.2h0M65.3 401.1h0M65.9 401.7h0M66.5 401.4h0M67.1 401.3h0M67.7 401.7h0M68.3 401.3h0M68.9 401.8h0M69.5 401.5h0M70.1 401.9h0M71.3 402.5h0M71.9 402.7h0M72.5 402.4h0M73.1 403.2h0M73.7 403.5h0M74.3 403.5h0M74.9 403.2h0M75.5 403.3h0M76.1 403.2h0M76.7 403.2h0M77.3 403.7h0M78.5 404.1h0M79.1 405.1h0M79.7 404.9h0M80.3 404.8h0M80.9 405h0M81.5 404.7h0M82.1 404.9h0M82.7 405.4h0M83.3 405h0M83.9 405.2h0M84.5 405.5h0M85.1 405.3h0M85.7 405.6h0M86.3 405.8h0M86.9 405.8h0M87.5 406.2h0M88.1 406.4h0M88.7 406.2h0M89.3 406.3h0M89.9 406.4h0M90.5 407h0M91.1 406.4h0M91.7 406.9h0M92.3 407.3h0M92.9 407.5h0M93.5 407.6h0M94.1 407.5h0M94.7 408.1h0M95.3 408h0M95.9 408h0M96.5 408h0M97.1 408.5h0M98.3 409.1h0M98.9 409.4h0M99.5 409.3h0M100.1 409.8h0M101.3 410.1h0M101.9 410.9h0M102.5 411.1h0M103.1 411h0M103.7 411.1h0M104.9 411.6h0M105.5 412.1h0M106.1 411.5h0M106.7 411.7h0M107.9 413h0M108.5 413.3h0M109.1 413.4h0M109.7 413.5h0M110.3 414.5h0M111.5 414.2h0M112.1 414.7h0M112.7 414.9h0M113.3 415h0M113.9 414.9h0M114.5 415h0M115.1 415.3h0M115.7 416.3h0M116.3 416.4h0M116.9 416.5h0M117.5 416.2h0M118.1 417.1h0M119.3 417.5h0M119.9 417.8h0M120.5 418.3h0M121.1 418h0M121.7 418h0M122.3 417.9h0M122.9 417.9h0M123.5 418.5h0M124.1 418.9h0M124.7 418.7h0M125.3 419.1h0M126.5 420h0M127.1 420.1h0M127.7 419.7h0M128.3 419.9h0M128.9 419.9h0M129.5 420.2h0M130.1 420.5h0M130.7 420.3h0M131.3 420.4h0M131.9 420.7h0M132.5 420.9h0M133.1 420.5h0M133.7 420.8h0M134.3 420.6h0M134.9 421.1h0M136.1 422.1h0M136.7 422.4h0M137.3 422.4h0M137.9 422.5h0M138.5 422.5h0M139.1 422.2h0M139.7 422.2h0M140.3 422.6h0M140.9 423.3h0M141.5 423h0M142.1 423h0M142.7 423.4h0M143.3 423.3h0M143.9 423.9h0M145.1 424.2h0M145.7 424.8h0M146.3 424.8h0M146.9 425h0M147.5 424.7h0M148.1 425.7h0M148.7 425.3h0M149.3 425.6h0M149.9 425.7h0M150.5 425.5h0M151.1 426.1h0M151.7 425.9h0M152.3 426.2h0M152.9 426.6h0M154.1 426.9h0M154.7 427.5h0M155.3 427.3h0M155.9 427.3h0M156.5 427.5h0M157.1 428h0M158.3 428.4h0M159.5 428.7h0M160.1 429.5h0M160.7 429.3h0M161.3 429.5h0M161.9 429.4h0M162.5 429.2h0M163.1 429.7h0M163.7 429.5h0M164.3 429.6h0M164.9 429.9h0M165.5 429.8h0M166.1 430.2h0M166.7 430.5h0M167.3 430.4h0M167.9 430.4h0M168.5 430h0M169.1 430h0M169.7 430.3h0M170.3 430.1h0M170.9 430h0M171.5 430h0M172.1 429.8h0M172.7 430.3h0M173.3 430.6h0M173.9 430.7h0M174.5 431.1h0M175.1 431.2h0M175.7 431.9h0M176.3 431.6h0M176.9 431.9h0M177.5 432.2h0M178.1 432.3h0M178.7 432.4h0M179.3 432.6h0M179.9 432.3h0M180.5 432.8h0M181.1 433.2h0M181.7 433.5h0M182.3 433h0M182.9 433.7h0M183.5 434h0M184.1 434.1h0M184.7 433.8h0M185.3 434.2h0M185.9 433.8h0M186.5 433.9h0M187.1 433.6h0M187.7 434.6h0M188.9 434.5h0M189.5 435.3h0M190.7 435.7h0M191.9 436.8h0M193.1 437.2h0M193.7 437.9h0M194.9 438.3h0M195.5 439.1h0M196.7 439h0M198.5 440.5h0M199.1 440.7h0M199.7 440.7h0M200.3 441.1h0M201.5 441.5h0M202.7 442.8h0M203.3 442.6h0M203.9 442.9h0M204.5 443h0M205.1 443.3h0M205.7 443.6h0M206.3 444h0M206.9 444h0M207.5 443.7h0M208.1 444.3h0M208.7 444.5h0M209.3 445h0M209.9 444.8h0M210.5 445h0M211.1 445h0M211.7 446h0M212.9 446.2h0M213.5 446.7h0M214.1 446.5h0M214.7 446.7h0M215.3 447.1h0M215.9 447.2h0M216.5 446.8h0M217.1 447.2h0M217.7 447.5h0M218.3 447.2h0M218.9 447.1h0M219.5 447.8h0M220.1 447.6h0M220.7 447.8h0M221.3 447.7h0M221.9 447.5h0M222.5 447.9h0M223.1 448.6h0M223.7 449.3h0M224.3 449.1h0M224.9 449.7h0M226.1 450.8h0M227.3 451.3h0M232.7 455.5h0M233.3 456h0M233.9 455.9h0M234.5 455.6h0M235.1 456.2h0M238.7 459.5h0M239.3 459.6h0M239.9 459.6h0M240.5 459.6h0M241.1 460h0M241.7 460.8h0M242.3 461h0M242.9 460.8h0M243.5 461.5h0M244.1 461.7h0M244.7 461.6h0M245.3 461.7h0M245.9 461.8h0M248.3 463.8h0M248.9 464h0M249.5 463.9h0M250.1 464.4h0M253.1 466.2h0M253.7 466.7h0M254.3 466.3h0M254.9 466.3h0M255.5 467.2h0M256.7 467.5h0M257.3 467.7h0M257.9 467.8h0M258.5 467.6h0M259.1 468.2h0M260.9 469.6h0M262.1 470h0M263.3 471.5h0M263.9 472.1h0M264.5 472h0M265.1 472.4h0M266.9 473.8h0M267.5 473.9h0M268.1 473.7h0M268.7 474.3h0M272.9 477.6h0M274.1 477.6h0M274.7 477h0M275.3 477h0M275.9 477.2h0M276.5 476.8h0M277.1 476.9h0M277.7 476.8h0M278.3 476.4h0M278.9 476h0M279.5 476h0M280.1 475.9h0M280.7 475.7h0M284.3 472.1h0M285.5 472.3h0M302.8 495.9h0M423.9 653.7h0" stroke="#000000" stroke-width="1.44" stroke-linecap="round" fill="none"/>
<path d="M39.5 394.9h0M40.1 395.2h0M43.1 396.2h0M44.3 397h0M45.5 396.2h0M49.1 396.7h0M53.3 398.4h0M70.7 402.2h0M77.9 404h0M97.7 408.6h0M100.7 410h0M104.3 411.6h0M107.3 412.5h0M110.9 414h0M118.7 417.1h0M125.9 419.5h0M135.5 421.4h0M144.5 423.9h0M153.5 426.8h0M157.7 428h0M158.9 428.5h0M188.3 434.5h0M190.1 435.3h0M191.3 436.3h0M192.5 437.4h0M194.3 438.2h0M196.1 439.3h0M197.3 440h0M197.9 440.1h0M200.9 441.2h0M202.1 441.8h0M212.3 446.1h0M225.5 450h0M226.7 451.4h0M227.9 452h0M228.5 452.2h0M229.1 452.8h0M229.7 452.8h0M230.3 453.9h0M230.9 454.7h0M231.5 454.9h0M232.1 455.3h0M235.7 456.7h0M236.3 457.6h0M236.9 457.9h0M237.5 458.4h0M238.1 458.8h0M246.5 462.3h0M247.1 463.3h0M247.7 463.4h0M250.7 464.7h0M251.3 465.1h0M251.9 465.5h0M252.5 466.1h0M256.1 467.1h0M259.7 468.8h0M260.3 469.3h0M261.5 470h0M262.7 470.8h0M265.7 472.9h0M266.3 473.2h0M269.3 474.6h0M269.9 475.2h0M270.5 475.8h0M271.1 476.3h0M271.7 476.7h0M272.3 477.1h0M273.5 477.7h0M281.3 475.3h0M281.9 474.8h0M282.5 473.9h0M283.1 473.3h0M283.7 472.7h0M284.9 472.1h0M286.1 472.6h0M286.7 473.9h0M287.3 474.8h0M287.9 476.3h0M288.5 478.4h0M289.1 480h0M289.7 480.9h0M290.3 481.8h0M290.9 482.5h0M291.5 483.7h0M292 483.3h0M292.9 486.4h0M293.8 488.5h0M294.7 491.2h0M295.6 485.4h0M296.5 485.7h0M297.4 489.1h0M298.3 488.3h0M299.2 490.4h0M300.1 491.8h0M301 494.1h0M301.9 495.5h0M303.7 496h0M304.6 498.2h0M305.5 497.7h0M306.4 499.9h0M307.3 499.7h0M308.2 501.8h0M309.1 501.9h0M310 500.6h0M310.9 501.6h0M311.8 500.4h0M312.7 501.8h0M313.6 501.6h0M314.5 501h0M315.4 499.6h0M316.3 500.6h0M317.2 505.6h0M318.1 504.3h0M319 501.6h0M319.9 506.2h0M320.8 506.5h0M321.7 503.7h0M295.9 490.1h0M301.7 495.9h0M307.4 501.7h0M313.2 497.3h0M316 503.1h0M320.4 504.5h0M318.9 510.3h0M323.2 508.8h0M324.7 516h0M327.6 513.2h0M330.4 521.8h0M333.3 524.7h0M329 531.9h0M334.7 531.9h0M333.3 537.6h0M337.6 539.1h0M339.1 549.1h0M339.1 554.9h0M341.9 562.1h0M340.5 566.4h0M343.4 577.9h0M344.8 583.1h0M350.6 586.5h0M352 592.3h0M352 599.5h0M345.7 607.6h0M331.9 523.2h0M336.2 534.7h0M326.1 511.7h0M329.9 518.9h0M331 527.6h0M336.8 536.2h0M321.8 506.8h0M317.5 500.2h0M310.3 498.8h0M304.5 498.2h0M298.8 493.6h0M344.3 583.1h0M350 586.1h0M351.4 591.7h0M352.8 593.1h0M351.8 600h0M345.7 607.8h0M374.9 619.2h0M359.2 623.5h0M358.5 624.9h0M346.7 625.3h0M348.5 627h0M356.1 629.2h0M360.4 631.3h0M368.9 630.2h0M373.8 629.6h0M376.3 628.2h0M375.6 631.3h0M367.5 634.6h0M369.2 636.3h0M370.6 637.7h0M362.1 637.4h0M372.3 639.2h0M377.5 638.4h0M381.8 639.9h0M353.5 640.6h0M347.5 641.6h0M349.3 644.4h0M357.5 642.3h0M366.1 642.3h0M365.2 644.1h0M371.8 642.7h0M373.2 642.7h0M379.5 642.7h0M380.6 643.4h0M378.5 645.3h0M388.5 642.7h0M403.1 642.3h0M356.1 645.6h0M354.7 648.1h0M356.7 647h0M385.6 647h0M384.2 648.9h0M383.5 650.6h0M382.8 652.4h0M386.6 650.8h0M364.2 650.8h0M361.4 652.3h0M362.8 654.1h0M364.7 653.7h0M392 650.6h0M396.3 649.1h0M402 649.9h0M409.8 647.4h0M420.5 646.7h0M406.3 650.6h0M409.1 650.1h0M393.4 652.7h0M395.6 653.4h0M397.7 654.1h0M399.9 652h0M401.3 654.1h0M403.4 654.8h0M405.6 652.7h0M407.7 654.8h0M410.6 653.4h0M412.7 654.1h0M414.8 652.7h0M416.3 650.6h0M417 654.1h0M418.4 652h0M419.1 650.6h0M389.2 654.1h0M389.9 655.6h0M392 654.8h0M387.7 656.3h0M394.9 655.6h0M399.1 655.6h0M422 654.1h0M423.4 653.4h0M424.8 652.7h0M426.2 654.1h0M427.7 649.1h0M429.1 647.7h0M430.5 649.9h0M431.9 644.1h0M433.4 642h0M434.1 645.6h0M434.8 644.9h0M435.5 649.9h0M436.9 648.4h0M438.3 647h0M439.8 649.1h0M441.2 646.3h0M442.6 647h0M444.1 644.9h0M444.8 642.7h0M445.5 646.3h0M446.9 644.1h0M448.3 645.6h0M449 643.4h0M450.5 641.3h0M451.9 640.6h0M453.3 641.3h0M454.7 637h0M456.2 638.4h0M457.6 637.7h0M459 640.6h0M460.4 639.2h0M461.2 635.6h0M462.6 634.2h0M464 634.9h0M464.7 637h0M414.5 652.6h0M398.3 653.2h0M399.3 651.8h0M404 656.6h0M412.4 656.3h0M416.7 655.8h0M426 655.4h0M397.3 652.6h0M402.8 651.4h0M395.5 656.1h0M423.1 653.1h0M417.1 655.5h0M421.8 655.6h0M407.6 651.8h0M419.3 653h0M411.3 653.3h0M407.8 656.5h0M432.5 651.3h0M451.7 642.3h0M463 636.3h0M462.1 638.2h0M464.2 634.1h0M434.6 649.1h0M461.8 634.8h0M436.4 650.4h0M465 634.1h0M443.4 647h0M453.3 642.6h0M455.8 638.9h0M436.3 646.9h0M453.3 639.8h0" stroke="#000000" stroke-width="1.64" stroke-linecap="round" fill="none"/>
<path d="M39.5 395.3L40.9 395.7L42.4 396.1L43.8 396.5L45.3 396.9L46.7 397.3L48.2 397.7L49.6 398.1L51.1 398.5L52.5 398.9L53.9 399.3L55.4 399.7L56.8 400.1L58.3 400.5L59.7 400.9L61.2 401.3L62.6 401.7L64.1 402.1L65.5 402.4L67 402.8L68.4 403.2L69.9 403.6L71.3 403.9L72.8 404.3L74.2 404.7L75.7 405L77.1 405.4L78.6 405.7L80.1 406.1L81.5 406.4L83 406.8L84.4 407.2L85.9 407.5L87.3 407.9L88.8 408.3L90.2 408.6L91.7 409L93.1 409.4L94.6 409.8L96 410.3L97.4 410.7L98.9 411.1L100.3 411.6L101.7 412.1L103.1 412.5L104.6 413L106 413.5L107.4 414L108.8 414.4L110.2 414.9L111.7 415.4L113.1 415.9L114.5 416.4L115.9 416.9L117.3 417.4L118.8 417.9L120.2 418.3L121.6 418.8L123 419.3L124.5 419.7L125.9 420.2L127.3 420.7L128.7 421.1L130.2 421.6L131.6 422.1L133 422.5L134.4 423L135.9 423.5L137.3 424L138.7 424.4L140.1 424.9L141.5 425.4L142.9 425.9L144.3 426.4L145.7 426.9L147.2 427.5L148.6 428L150 428.5L151.4 429.1L152.8 429.6L154.2 430.1L155.6 430.7L157 431.2L158.3 431.8L159.7 432.3L161.1 432.9L162.5 433.5L163.9 434.1L165.3 434.6L166.7 435.2L168 435.8L169.4 436.4L170.8 437L172.2 437.6L173.5 438.3L174.9 438.9L176.2 439.5L177.6 440.2L178.9 440.8L180.3 441.4L181.7 442L183 442.6L184.4 443.2L185.8 443.8L187.2 444.4L188.6 445L190 445.6L191.3 446.2L192.7 446.8L194.1 447.4L195.4 448L196.8 448.6L198.1 449.3L199.5 450L200.8 450.7L202.1 451.4L203.4 452.1L204.8 452.8L206.1 453.5L207.4 454.3L208.7 455L210 455.8L211.3 456.5L212.5 457.3L213.8 458.1L215.1 458.9L216.3 459.7L217.6 460.6L218.8 461.4L220 462.3L221.3 463.1L222.5 464L223.7 464.9L224.9 465.8L226.1 466.7L227.3 467.5L228.5 468.4L229.8 469.3L231 470.2L232.2 471.1L233.4 472L234.6 472.8L235.8 473.7L237 474.6L238.2 475.5L239.4 476.4L240.6 477.3L241.8 478.2L243 479.1L244.2 480L245.4 480.9L246.6 481.8L247.8 482.7L249 483.7L250.2 484.6L251.3 485.5L252.5 486.4L253.7 487.4L254.8 488.3L256 489.3L257.1 490.3L258.2 491.3L259.3 492.3L260.4 493.3L261.5 494.3L262.6 495.4L263.7 496.5L264.7 497.5L265.8 498.6L266.8 499.7L267.8 500.8L268.8 501.9L269.8 503L270.8 504.1L271.8 505.3L272.7 506.4L273.6 507.6L274.6 508.8L275.5 510L276.4 511.2L277.3 512.4L278.2 513.6L279 514.8L279.9 516.1L280.7 517.3L281.6 518.5L282.4 519.8L283.2 521L284 522.3L284.9 523.5L285.7 524.8L286.5 526.1L287.3 527.3L288.1 528.6L288.9 529.8L289.7 531.1L290.5 532.4L291.3 533.7L292 535L292.8 536.3L293.5 537.6L294.3 538.9L295 540.2L295.7 541.5L296.4 542.9L297.1 544.2L297.7 545.5L298.3 546.9L299 548.3L299.6 549.6L300.2 551L300.7 552.4L301.3 553.8L301.9 555.2L302.4 556.6L303 558L303.5 559.4L304 560.8L304.5 562.2L305 563.6L305.5 565L306 566.4L306.5 567.9L306.9 569.3L307.3 570.7L307.8 572.2L308.1 573.6L308.5 575.1L308.9 576.5L309.3 578L309.6 579.4L310 580.9L310.3 582.3L310.7 583.8L311 585.3L311.3 586.7L311.6 588.2L311.9 589.7L312.2 591.1L312.5 592.6L312.8 594.1L313 595.6L313.3 597L313.5 598.5L313.8 600L314 601.5L314.2 602.9L314.5 604.4L314.7 605.9L314.9 607.4L319.2 658.5L465.5 658.5" stroke="#ff0000" stroke-width="1.2" fill="none" stroke-linejoin="round"/>
<path d="M39.9 386.3l2.3 2.3l-2.3 2.3l-2.3 -2.3zM44.1 388l2.3 2.3l-2.3 2.3l-2.3 -2.3zM48.4 388.8l2.3 2.3l-2.3 2.3l-2.3 -2.3zM52.6 389.2l2.3 2.3l-2.3 2.3l-2.3 -2.3zM56.9 389.7l2.3 2.3l-2.3 2.3l-2.3 -2.3zM61.2 390.5l2.3 2.3l-2.3 2.3l-2.3 -2.3zM65.4 392.2l2.3 2.3l-2.3 2.3l-2.3 -2.3zM69.7 393.9l2.3 2.3l-2.3 2.3l-2.3 -2.3zM73.9 394.4l2.3 2.3l-2.3 2.3l-2.3 -2.3zM78.2 393.5l2.3 2.3l-2.3 2.3l-2.3 -2.3zM82.5 396.1l2.3 2.3l-2.3 2.3l-2.3 -2.3zM86.7 396.9l2.3 2.3l-2.3 2.3l-2.3 -2.3zM91 396.9l2.3 2.3l-2.3 2.3l-2.3 -2.3zM95.2 398.1l2.3 2.3l-2.3 2.3l-2.3 -2.3zM99.5 398.6l2.3 2.3l-2.3 2.3l-2.3 -2.3zM103.8 401.1l2.3 2.3l-2.3 2.3l-2.3 -2.3zM108 402.8l2.3 2.3l-2.3 2.3l-2.3 -2.3zM112.3 404l2.3 2.3l-2.3 2.3l-2.3 -2.3zM116.5 405.2l2.3 2.3l-2.3 2.3l-2.3 -2.3zM120.8 406.9l2.3 2.3l-2.3 2.3l-2.3 -2.3zM125.1 407.7l2.3 2.3l-2.3 2.3l-2.3 -2.3zM129.3 408.6l2.3 2.3l-2.3 2.3l-2.3 -2.3zM133.6 410.8l2.3 2.3l-2.3 2.3l-2.3 -2.3zM137.8 412l2.3 2.3l-2.3 2.3l-2.3 -2.3zM142.1 412.8l2.3 2.3l-2.3 2.3l-2.3 -2.3zM146.4 413.3l2.3 2.3l-2.3 2.3l-2.3 -2.3zM150.6 415.3l2.3 2.3l-2.3 2.3l-2.3 -2.3zM154.9 414.2l2.3 2.3l-2.3 2.3l-2.3 -2.3zM159.1 415l2.3 2.3l-2.3 2.3l-2.3 -2.3zM163.4 415.8l2.3 2.3l-2.3 2.3l-2.3 -2.3zM167.7 417.9l2.3 2.3l-2.3 2.3l-2.3 -2.3zM171.9 418l2.3 2.3l-2.3 2.3l-2.3 -2.3zM176.2 419.6l2.3 2.3l-2.3 2.3l-2.3 -2.3zM180.8 420.9l2.3 2.3l-2.3 2.3l-2.3 -2.3zM185.1 422.1l2.3 2.3l-2.3 2.3l-2.3 -2.3zM189.3 423.2l2.3 2.3l-2.3 2.3l-2.3 -2.3zM193.5 424.6l2.3 2.3l-2.3 2.3l-2.3 -2.3zM197.7 424.1l2.3 2.3l-2.3 2.3l-2.3 -2.3zM202 428l2.3 2.3l-2.3 2.3l-2.3 -2.3zM206.2 429.3l2.3 2.3l-2.3 2.3l-2.3 -2.3zM210.4 430.5l2.3 2.3l-2.3 2.3l-2.3 -2.3zM214.6 433l2.3 2.3l-2.3 2.3l-2.3 -2.3zM218.9 434.2l2.3 2.3l-2.3 2.3l-2.3 -2.3zM223.1 433.5l2.3 2.3l-2.3 2.3l-2.3 -2.3zM227.3 435.1l2.3 2.3l-2.3 2.3l-2.3 -2.3zM231.5 434.7l2.3 2.3l-2.3 2.3l-2.3 -2.3zM235.7 434.4l2.3 2.3l-2.3 2.3l-2.3 -2.3zM240 433.9l2.3 2.3l-2.3 2.3l-2.3 -2.3zM244.2 435.6l2.3 2.3l-2.3 2.3l-2.3 -2.3zM248.4 434.4l2.3 2.3l-2.3 2.3l-2.3 -2.3zM253 440.1l2.3 2.3l-2.3 2.3l-2.3 -2.3zM257.2 441l2.3 2.3l-2.3 2.3l-2.3 -2.3zM261.4 444.9l2.3 2.3l-2.3 2.3l-2.3 -2.3zM265.6 443.7l2.3 2.3l-2.3 2.3l-2.3 -2.3zM269.9 444.5l2.3 2.3l-2.3 2.3l-2.3 -2.3zM274.1 444.9l2.3 2.3l-2.3 2.3l-2.3 -2.3zM278.3 445.2l2.3 2.3l-2.3 2.3l-2.3 -2.3zM282.5 450.3l2.3 2.3l-2.3 2.3l-2.3 -2.3zM286.9 451.3l2.3 2.3l-2.3 2.3l-2.3 -2.3zM291.1 449.9l2.3 2.3l-2.3 2.3l-2.3 -2.3zM295.4 452.8l2.3 2.3l-2.3 2.3l-2.3 -2.3zM299.6 453.8l2.3 2.3l-2.3 2.3l-2.3 -2.3zM303.8 458.7l2.3 2.3l-2.3 2.3l-2.3 -2.3zM308 462.1l2.3 2.3l-2.3 2.3l-2.3 -2.3zM312.3 460.1l2.3 2.3l-2.3 2.3l-2.3 -2.3zM316.5 463.9l2.3 2.3l-2.3 2.3l-2.3 -2.3zM321 466.3l2.3 2.3l-2.3 2.3l-2.3 -2.3zM325.3 467.7l2.3 2.3l-2.3 2.3l-2.3 -2.3zM329.5 473.6l2.3 2.3l-2.3 2.3l-2.3 -2.3zM333.7 480l2.3 2.3l-2.3 2.3l-2.3 -2.3zM337.9 488.4l2.3 2.3l-2.3 2.3l-2.3 -2.3zM342.4 655.5l2.3 2.3l-2.3 2.3l-2.3 -2.3zM346.7 655.5l2.3 2.3l-2.3 2.3l-2.3 -2.3zM351 655.5l2.3 2.3l-2.3 2.3l-2.3 -2.3zM355.2 655.5l2.3 2.3l-2.3 2.3l-2.3 -2.3zM368.1 655.5l2.3 2.3l-2.3 2.3l-2.3 -2.3zM372.3 655.5l2.3 2.3l-2.3 2.3l-2.3 -2.3zM376.6 655.5l2.3 2.3l-2.3 2.3l-2.3 -2.3zM380.9 655.5l2.3 2.3l-2.3 2.3l-2.3 -2.3zM385.2 655.5l2.3 2.3l-2.3 2.3l-2.3 -2.3zM389.5 655.5l2.3 2.3l-2.3 2.3l-2.3 -2.3zM393.7 655.5l2.3 2.3l-2.3 2.3l-2.3 -2.3zM398 655.5l2.3 2.3l-2.3 2.3l-2.3 -2.3z" fill="#00ff00"/>
<path d="M40.1 399.9h0M48.5 400.9h0M57 392h0M65.7 406h0M74.4 408h0M83.1 409.7h0M91.9 411.4h0M100.5 415.1h0M109.3 415.6h0M118.1 419h0M126.7 411h0M135.5 414.3h0M144.3 426.2h0M152.9 429.1h0M161.7 418.5h0M170.1 433.3h0M179.2 437h0M187.6 440.7h0M196.4 441.2h0M205 431.6h0M213.8 446h0M222.2 451h0M230.7 454.8h0M239.5 454.3h0M248.1 457.8h0M256.9 464.9h0M265.6 464.1h0M274.3 467.8h0M283 473h0M291.5 474.7h0M300.3 481.3h0M308.9 485.5h0M317.7 492.3h0M326.3 492.8h0M334.7 520.9h0M344 520.9h0M352.4 654.1h0M360.9 656.3h0M369.6 658.1h0M378.5 656.7h0M387 657.8h0M395.7 657.8h0M404.4 657.8h0M413 657.8h0M421.7 657.8h0M430.4 657.8h0M439 657.8h0M447.7 657.8h0M456.4 657.8h0M465 657.8h0" stroke="#0000ff" stroke-width="3.60" stroke-linecap="round" fill="none"/>
<rect x="39.5" y="364.9" width="426.1" height="297.7" fill="none" stroke="#222" stroke-width="1.1"/>
<path d="M82.1 662.6v-8.6M82.1 364.9v8.6M167.3 662.6v-8.6M167.3 364.9v8.6M252.5 662.6v-8.6M252.5 364.9v8.6M337.7 662.6v-8.6M337.7 364.9v8.6M422.9 662.6v-8.6M422.9 364.9v8.6M124.7 662.6v-4.3M124.7 364.9v4.3M209.9 662.6v-4.3M209.9 364.9v4.3M295.1 662.6v-4.3M295.1 364.9v4.3M380.3 662.6v-4.3M380.3 364.9v4.3M39.5 658.5h8.6M465.5 658.5h-8.6M39.5 609.6h8.6M465.5 609.6h-8.6M39.5 560.6h8.6M465.5 560.6h-8.6M39.5 511.7h8.6M465.5 511.7h-8.6M39.5 462.8h8.6M465.5 462.8h-8.6M39.5 413.8h8.6M465.5 413.8h-8.6M39.5 634h4.3M465.5 634h-4.3M39.5 585.1h4.3M465.5 585.1h-4.3M39.5 536.2h4.3M465.5 536.2h-4.3M39.5 487.2h4.3M465.5 487.2h-4.3M39.5 438.3h4.3M465.5 438.3h-4.3M39.5 389.4h4.3M465.5 389.4h-4.3" stroke="#222" stroke-width="0.9" fill="none"/>
<text x="82.1" y="679.3" font-size="13" text-anchor="middle">0.56</text>
<text x="167.3" y="679.3" font-size="13" text-anchor="middle">0.58</text>
<text x="252.5" y="679.3" font-size="13" text-anchor="middle">0.6</text>
<text x="339" y="679.3" font-size="13" text-anchor="middle">0.62</text>
<text x="422.9" y="679.3" font-size="13" text-anchor="middle">0.64</text>
<text x="32.7" y="665" font-size="13" text-anchor="end">0</text>
<text x="32.7" y="613.8" font-size="13" text-anchor="end">0.1</text>
<text x="32.7" y="564.8" font-size="13" text-anchor="end">0.2</text>
<text x="32.7" y="515.9" font-size="13" text-anchor="end">0.3</text>
<text x="32.7" y="467" font-size="13" text-anchor="end">0.4</text>
<text x="32.7" y="418" font-size="13" text-anchor="end">0.5</text>
<text x="32.7" y="369.1" font-size="13" text-anchor="end">0.6</text>
<text x="176.4" y="388.8" font-size="20">(c)</text>
<text transform="translate(12.1 532.3) rotate(-90)" font-size="18" text-anchor="middle">M</text>
<text x="196.8" y="688.7" font-size="19.5">e</text>
<text x="206.8" y="694.4" font-size="17.3">tot</text>
<rect x="337.2" y="386.3" width="99.6" height="55.8" fill="#fff" stroke="#222" stroke-width="0.9"/>
<text x="367.8" y="398.6" font-size="12">MD</text>
<text x="367.8" y="410.7" font-size="12">LB</text>
<text x="367.8" y="422.8" font-size="12">CH</text>
<text x="367.8" y="435.3" font-size="12">CH - Entropy</text>
<path d="M350.5 394.6h0" stroke="#000000" stroke-width="1.60" stroke-linecap="round" fill="none"/>
<path d="M342 406.6h17" stroke="#ff0000" stroke-width="1.1"/>
<path d="M350.5 416.7l2.2 2.2l-2.2 2.2l-2.2 -2.2z" fill="#00ff00"/>
<path d="M350.5 432.3h0" stroke="#0000ff" stroke-width="3.60" stroke-linecap="round" fill="none"/>
<path d="M522.3 389.9h0M522.8 389.7h0M523.3 389.5h0M523.8 389.9h0M524.3 389.7h0M524.8 390.3h0M525.3 390.3h0M525.8 390.5h0M526.3 390.2h0M526.8 390.3h0M527.3 390.7h0M527.8 390.6h0M528.3 390.2h0M529.8 391.5h0M530.3 391.2h0M530.8 391h0M531.3 390.5h0M531.8 391.1h0M532.3 391.1h0M532.8 391.2h0M533.3 391.6h0M533.8 391.8h0M534.3 391.3h0M534.8 391.9h0M535.3 391.5h0M535.8 391.7h0M536.3 392.2h0M536.8 392.8h0M537.3 392.4h0M537.8 392.6h0M538.3 392.2h0M538.8 392.4h0M539.3 392.8h0M539.8 392.9h0M540.3 393.6h0M540.8 393.7h0M541.3 393.8h0M541.8 394h0M542.3 393.7h0M542.8 394.1h0M543.3 394.8h0M543.8 394.2h0M544.3 394.1h0M544.8 394.4h0M545.3 394.1h0M545.8 393.9h0M546.3 393.9h0M546.8 393.7h0M547.3 394.4h0M547.8 393.4h0M548.8 394.1h0M549.3 394.5h0M549.8 395h0M550.3 394.5h0M550.8 394.4h0M551.3 394.5h0M551.8 394.9h0M552.3 395.7h0M552.8 395.3h0M553.3 395.8h0M553.8 395.6h0M554.3 395h0M554.8 394.8h0M556.3 396.5h0M556.8 397h0M557.3 396.3h0M557.8 396.1h0M558.3 396.1h0M558.8 396.1h0M559.3 396.2h0M559.8 395.7h0M560.3 396h0M560.8 396.9h0M561.3 397.1h0M561.8 397.7h0M562.3 397.4h0M562.8 396.8h0M563.3 397.1h0M563.8 397h0M564.3 398.1h0M564.8 398.5h0M565.3 398.3h0M565.8 398h0M566.3 398.3h0M566.8 398h0M567.3 398h0M567.8 398.5h0M568.3 397.7h0M568.8 398h0M569.3 398.7h0M569.8 398.3h0M570.3 398.5h0M570.8 398.9h0M571.3 399.7h0M571.8 399.9h0M572.3 399.5h0M572.8 400h0M573.3 400.2h0M573.8 400h0M574.3 400.7h0M574.8 400.7h0M575.3 400.2h0M575.8 400.6h0M576.3 400.5h0M576.8 400.7h0M577.3 400.9h0M577.8 401.6h0M578.8 402.3h0M579.8 401.7h0M580.3 401.6h0M580.8 402.1h0M581.3 401.8h0M581.8 401.8h0M582.3 402.1h0M582.8 402.4h0M583.3 403.1h0M583.8 403.1h0M584.3 402.4h0M584.8 402.6h0M585.3 403.6h0M585.8 403.6h0M586.3 403.7h0M586.8 403.8h0M587.3 403.9h0M587.8 403.8h0M588.3 403.8h0M588.8 404.3h0M589.3 404h0M589.8 404.1h0M590.3 404.6h0M590.8 404.7h0M591.3 404.3h0M591.8 404.4h0M592.3 405h0M592.8 405.2h0M593.3 405.6h0M593.8 405.3h0M594.3 405.1h0M594.8 405.8h0M595.3 405.7h0M595.8 405.9h0M596.3 406.3h0M596.8 406.3h0M597.3 406.2h0M597.8 406h0M598.3 406.4h0M598.8 406.5h0M599.3 406.9h0M599.8 407.5h0M600.3 407.1h0M600.8 407.1h0M601.3 407.7h0M601.8 408.4h0M602.3 407.6h0M602.8 408.3h0M604.3 408.5h0M604.8 408.6h0M605.3 408.3h0M605.8 408.5h0M606.3 408.2h0M606.8 408.8h0M607.3 408.4h0M607.8 408.9h0M608.3 409.5h0M608.8 410.2h0M609.3 409.3h0M609.8 409.7h0M610.3 409.9h0M610.8 408.9h0M611.3 409.9h0M611.8 409.9h0M612.3 410.3h0M612.8 410h0M613.3 410.3h0M613.8 410.1h0M614.3 410.6h0M614.8 410.9h0M615.3 411.2h0M615.8 411.4h0M616.3 410.7h0M616.8 410.8h0M618.3 413h0M618.8 413.8h0M619.3 413.3h0M619.8 413h0M620 413.1h0M620.7 413.6h0" stroke="#000000" stroke-width="1.56" stroke-linecap="round" fill="none"/>
<path d="M521.8 389.5h0M528.8 390.3h0M529.3 391.6h0M548.3 393.2h0M555.3 394.9h0M555.8 396.3h0M578.3 401.9h0M579.3 401h0M603.3 408.9h0M603.8 407.5h0M617.3 411.7h0M617.8 412.7h0M621.4 414.4h0M622.1 414.7h0M622.8 416.5h0M623.5 417.1h0M624.2 418.6h0M624.9 416.5h0M625.6 418.6h0M626.3 417h0M627 418.6h0M627.7 418h0M628.4 417.4h0M629.1 418.3h0M629.8 419.9h0M630.5 418.1h0M631.2 420.4h0M631.9 420.1h0M632.6 420.3h0M633.3 419.1h0M634 417.3h0M634.7 418.4h0M635.4 414.2h0M636.1 417.3h0M636.8 416.4h0M637.5 415.1h0M638.2 417.5h0M638.9 417.9h0M639.6 416.7h0M640.3 419.8h0M641 419.9h0M641.7 420.7h0M642.4 420.5h0M643.1 419.9h0M643.8 419.5h0M644.5 420.5h0M645.2 421.7h0M645.9 421.2h0M646.6 421.5h0M647.3 419.6h0M648 421.3h0M648.7 420.4h0M649.4 419.5h0M650.1 420.3h0M650.8 420.8h0M651.5 422.7h0M652.2 420h0M652.9 420.4h0M653.6 419.9h0M654.3 421.4h0M655 422h0M655.7 422.9h0M656.4 424.2h0M657.1 424.3h0M657.8 423.3h0M658.5 423.8h0M659.2 425.1h0M659.9 425.6h0M660.6 426.1h0M661.3 425.1h0M662 426.2h0M662.7 426.4h0M663.4 425.9h0M664.1 425.8h0M664.8 426.7h0M665.5 428.9h0M666.2 427.9h0M666.9 429h0M667.6 429.2h0M668.3 427.6h0M669 428.7h0M669.7 429.5h0M670.4 429.7h0M671.1 431.4h0M671.8 431.4h0M672.5 431.6h0M673.2 432.6h0M673.9 433.5h0M674.6 434.9h0M675.3 434.3h0M676 433.4h0M676.7 431.2h0M677.4 433.9h0M678.1 436.1h0M678.8 436.3h0M679.5 437.7h0M680.2 439.6h0M680.9 440.8h0M681.6 439.1h0M682.3 442.4h0M683 443h0M683.7 441.5h0M684.4 440.1h0M685.1 440.6h0M685.8 440.5h0M686.5 441.2h0M687.2 440h0M687.9 440.5h0M688.6 440.9h0M689.3 442.2h0M690 440.4h0M690.7 444.1h0M691.4 443h0M692.1 443.9h0M692.8 443.6h0M693.5 444.3h0M694.2 447.1h0M694.9 450.8h0M695.6 450.7h0M696.3 451.2h0M697 451.2h0M697.7 449.4h0M698.4 448.5h0M699.1 447h0M699.8 447.2h0M700 444.9h0M700.8 446.9h0M701.6 452.3h0M702.4 446.3h0M703.2 447.4h0M704 446.2h0M704.8 444.9h0M705.6 450.2h0M706.4 449.4h0M707.2 453.1h0M708 450.5h0M708.8 450.5h0M709.6 445.7h0M710.4 454.1h0M711.2 454.3h0M712 458.3h0M712.8 463h0M713.6 458.9h0M714.4 456.5h0M715.2 453.5h0M716 457.4h0M716.8 455.5h0M717.6 457.5h0M718.4 455.4h0M719.2 459.5h0M720 449.5h0M720.8 460.1h0M721.6 459.2h0M722.4 456.9h0M723.2 452.8h0M724 453.5h0M724.8 452.5h0M725.6 455.7h0M726.4 451.8h0M727.2 452.6h0M728 456.5h0M728.8 452.6h0M729.6 456.6h0M730.4 455h0M731.2 454.7h0M732 450.7h0M732.8 455.4h0M733.6 460.3h0M734.4 455.5h0M735.2 453h0M736 456.3h0M736.8 457.3h0M737.6 454.8h0M738.4 457.9h0M739.2 454.4h0M740 459.5h0M740.8 452.9h0M741.6 451.8h0M742.4 454.5h0M743.2 460h0M744 460.6h0M744.8 461.7h0M745.6 456.7h0M746.4 464.5h0M747.2 459.8h0M748 460.1h0M748.8 464.1h0M749.6 465.6h0M750.4 466.6h0M751.2 464.9h0M752 470.1h0M752.8 468h0M753.6 467.1h0M754.4 468.8h0M755.2 474.7h0M756 469.1h0M756.8 469.7h0M757.6 475.7h0M758.4 476.2h0M759.2 469.9h0M760 470.8h0M760.8 473.5h0M761.6 474.6h0M762.4 474.8h0M763.2 477.3h0M764 474.2h0M764.8 474.3h0M765.6 468.5h0M766.4 474.5h0M767.2 467h0M768 473.1h0M768.8 472.6h0M769.6 470.5h0M770.4 471.1h0M771.2 470.5h0M772 475.7h0M772.8 472.7h0M773.6 473.3h0M774.4 475.6h0M775.2 475.2h0M776 474.2h0M776.8 477.1h0M777.6 479.3h0M778.4 481.4h0M779.2 478.4h0M780 482.7h0M780.8 487.3h0M781.6 487.8h0M782.4 483.1h0M783.2 488.5h0M784 488.9h0M784.8 483.8h0M785.6 488.5h0M786.4 490.3h0M787.2 498.2h0M788 498.1h0M788.8 493h0M789.6 494.1h0M790.4 494.1h0M791.2 491.2h0M792 493.1h0M792.8 496.1h0M793.6 491.4h0M794.4 490.1h0M795.2 489.9h0M796 485.1h0M796.8 483.8h0M797.6 487.7h0M798.4 485.2h0M799.2 484.6h0M800 483.9h0M800.8 488.3h0M801.6 488.4h0M802.4 484.1h0M803.2 488.4h0M804 487.4h0M804.8 488.7h0M805.6 488.2h0M806.4 490.5h0M807.2 491h0M808 491.4h0M808.8 493.3h0M809.6 493h0M810.4 492.9h0M811.2 494.3h0M812 492.7h0M812 491.9h0M812.8 489.9h0M813.6 489.6h0M814.4 490.2h0M815.2 489.8h0M816 490.2h0M816.8 488h0M817.6 487.3h0M818.4 486.9h0M819.2 487.6h0M820 486.9h0M820.8 488.5h0M821.6 488.9h0M822.4 488.9h0M823.2 488h0M824 488.1h0M824.8 487.9h0M825.6 489.2h0M826.4 488.4h0M827.2 488.8h0M828 490.4h0M828.8 489.3h0M829.6 491h0M830.4 490.7h0M831.2 489.6h0M832 491.7h0M832.8 490.3h0M833.6 491.6h0M834.4 493.3h0M835.2 490.7h0M836 490.8h0M836.8 490.7h0M837.6 490.8h0M838.4 491.8h0M839.2 492.3h0M840 490.8h0M840.8 489.1h0M841.6 490.6h0M842.4 492.5h0M843.2 491.7h0M844 491h0M844.8 491.3h0M845.6 490.6h0M846.4 492.8h0M847.2 491.6h0M848 491.6h0M848.8 490.8h0M849.6 492.6h0M850.4 491.3h0M851.2 492.3h0M852 491.3h0M852.8 493.2h0M853.6 491.9h0M854.4 493h0M855.2 493.5h0M856 491.2h0M857.6 500.8h0M861.1 498.2h0M859.4 499.6h0M862.9 500.3h0M864.7 503.5h0M866.4 506.1h0M868.2 507.9h0M869.9 510.5h0M873.5 515.8h0M871.7 513.2h0M877 512.3h0M878.8 516.7h0M875.2 522h0M877 526.4h0M879.6 529.9h0M886.7 527.3h0M885.8 537h0M887.6 540.5h0M883.2 547.6h0M889.3 547.6h0M890.2 551.1h0M884.1 554.6h0M884.1 558.2h0M788.8 501.7h0M791.5 500h0M792.3 496.4h0M787.1 492h0M783.5 491.1h0M802.9 500h0M806.5 499.1h0M887.7 540.9h0M883.4 547.9h0M889 547.9h0M890.1 551.6h0M882.6 555h0M884.9 555.9h0M884 558.7h0M880.8 561.5h0M882.1 562.4h0M891.8 564.3h0M892.9 576.5h0M893.9 577.4h0M890.9 584h0M894.2 588.1h0M910.1 582.6h0M914.8 589.9h0M897.1 597.6h0M908.8 598.5h0M912 599.9h0M922.3 598h0M931.7 597.6h0M940.4 595.2h0M913.9 605.1h0M919.5 604.5h0M923.2 604.9h0M921.4 605.8h0M907.7 607.3h0M912.6 608.3h0M937.3 604h0M943.8 606.8h0M933.5 607.7h0M936.3 608.6h0M931.3 610.5h0M924.2 610.1h0M920.1 612h0M896.1 609.6h0M895.2 613.3h0M905.5 616.3h0M911.1 616.1h0M918.2 614.8h0M916.7 616.3h0M929.2 615.8h0M938.6 615.8h0M906.4 618.9h0M915.8 618.9h0M920.8 618.2h0M942.9 619.9h0M941.9 621.4h0M930.3 620.8h0M899.9 620.8h0M901.2 620.4h0M897.6 624.7h0M939.7 625.1h0M904.5 628.9h0M925.1 630.7h0M934.8 630.3h0M933.2 631.1h0M928.3 633.9h0M926 638.2h0M927 641h0M900.2 639.7h0M903 640.6h0M916.3 642.5h0M927.5 647.2h0M936 648.1h0M902.1 648.9h0M906.8 655h0M898.4 656.3h0" stroke="#000000" stroke-width="1.70" stroke-linecap="round" fill="none"/>
<path d="M521.8 390.3L525.5 397.9L525.5 397.9L527 398.3L528.4 398.6L529.9 399L531.3 399.3L532.8 399.7L534.2 400L535.7 400.4L537.1 400.8L538.6 401.1L540 401.5L541.5 401.9L542.9 402.2L544.4 402.6L545.8 402.9L547.3 403.3L548.7 403.7L550.2 404L551.6 404.4L553.1 404.8L554.5 405.1L556 405.5L557.4 405.9L558.9 406.3L560.3 406.6L561.8 407L563.2 407.4L564.7 407.7L566.1 408.1L567.6 408.5L569 408.9L570.5 409.2L571.9 409.6L573.4 410L574.8 410.4L576.3 410.8L577.7 411.1L579.2 411.5L580.6 411.9L582.1 412.3L583.5 412.7L585 413L586.4 413.4L587.9 413.8L589.3 414.2L590.8 414.6L592.2 415L593.7 415.3L595.1 415.7L596.5 416.1L598 416.5L599.4 416.9L600.9 417.3L602.3 417.7L603.8 418.1L605.2 418.5L606.7 418.8L608.1 419.2L609.5 419.6L611 420L612.4 420.4L613.9 420.8L615.3 421.2L616.8 421.6L618.2 422L619.7 422.4L621.1 422.8L622.5 423.2L624 423.6L625.4 424L626.9 424.4L628.3 424.8L629.8 425.2L631.2 425.6L632.7 426L634.1 426.4L635.5 426.8L637 427.2L638.4 427.6L639.9 428L641.3 428.4L642.7 428.8L644.2 429.2L645.6 429.6L647.1 430L648.5 430.4L649.9 430.8L651.4 431.2L652.8 431.7L654.3 432.1L655.7 432.5L657.1 432.9L658.6 433.4L660 433.8L661.4 434.2L662.8 434.7L664.3 435.1L665.7 435.5L667.1 436L668.6 436.4L670 436.9L671.4 437.3L672.9 437.8L674.3 438.2L675.7 438.6L677.1 439.1L678.6 439.5L680 440L681.4 440.4L682.8 440.9L684.3 441.3L685.7 441.8L687.1 442.3L688.6 442.7L690 443.2L691.4 443.6L692.8 444.1L694.3 444.5L695.7 445L697.1 445.5L698.5 445.9L700 446.4L701.4 446.9L702.8 447.3L704.2 447.8L705.6 448.3L707.1 448.7L708.5 449.2L709.9 449.7L711.3 450.2L712.7 450.6L714.2 451.1L715.6 451.6L717 452.1L718.4 452.5L719.8 453L721.3 453.5L722.7 454L724.1 454.5L725.5 454.9L726.9 455.4L728.4 455.9L729.8 456.4L731.2 456.9L732.6 457.4L734 457.9L735.4 458.4L736.8 458.9L738.3 459.3L739.7 459.8L741.1 460.3L742.5 460.8L743.9 461.3L745.3 461.8L746.7 462.3L748.2 462.8L749.6 463.3L751 463.8L752.4 464.3L753.8 464.8L755.2 465.3L756.6 465.8L758 466.4L759.4 466.9L760.8 467.4L762.2 467.9L763.6 468.4L765.1 468.9L766.5 469.4L767.9 469.9L769.3 470.4L770.7 471L772.1 471.5L773.5 472L774.9 472.5L776.3 473L777.7 473.5L779.1 474.1L780.5 474.6L781.9 475.1L783.3 475.6L784.7 476.2L786.1 476.7L787.5 477.2L788.9 477.8L790.3 478.3L791.7 478.8L793.1 479.4L794.5 479.9L795.9 480.5L797.3 481L798.7 481.6L800 482.1L801.4 482.7L802.8 483.3L804.2 483.8L805.6 484.4L807 485L808.4 485.6L809.7 486.1L811.1 486.7L812.5 487.3L813.9 487.9L815.2 488.5L816.6 489.1L818 489.7L819.4 490.3L820.7 490.9L822.1 491.5L823.4 492.1L824.8 492.8L826.2 493.4L827.5 494L828.9 494.7L830.2 495.3L831.6 495.9L832.9 496.6L834.3 497.2L835.6 497.9L837 498.5L838.3 499.2L839.7 499.8L841 500.5L842.4 501.1L843.7 501.8L845.1 502.4L846.4 503.1L847.8 503.7L849.1 504.4L850.5 505L851.8 505.7L853.2 506.4L854.5 507L855.8 507.7L857.2 508.3L858.5 509L859.9 509.7L861.2 510.4L862.5 511L863.9 511.7L865.2 512.4L866.5 513.1L867.9 513.8L869.2 514.5L870.5 515.2L871.8 515.9L873.1 516.6L874.5 517.3L875.8 518L877.1 518.7L878.4 519.4L879.7 520.2L881 520.9L882.3 521.6L883.6 522.4L884.9 523.1L886.2 523.9L887.5 524.7L888.7 525.5L890 526.3L891.3 527.1L892.5 527.9L893.8 528.7L895 529.5L896.3 530.4L897.5 531.2L898.8 532L900 532.9L901.2 533.7L902.5 534.5L903.7 535.4L905 536.2L906.2 537L907.5 537.8L908.8 538.6L910 539.4L911.3 540.3L912.5 541.1L913.8 541.9L915 542.7L916.3 543.5L917.5 544.3L918.8 545.2L920 546L921.3 546.8L922.5 547.7L923.8 548.5L925 549.3L926.2 550.2L927.5 551L928.7 551.9L929.9 552.8L931.1 553.6L932.4 554.5L933.6 555.3L934.8 556.2L936.1 557L937.3 557.8L938.6 558.7L939.8 559.5L941.1 560.3L942.4 561.1L943.6 561.9L944.9 562.6L946.2 563.4" stroke="#ff0000" stroke-width="1.2" fill="none" stroke-linejoin="round"/>
<path d="M521.8 382.7l3.2 3.2l-3.2 3.2l-3.2 -3.2zM522.7 383.1l3.2 3.2l-3.2 3.2l-3.2 -3.2zM523.6 382.4l3.2 3.2l-3.2 3.2l-3.2 -3.2zM524.5 382.1l3.2 3.2l-3.2 3.2l-3.2 -3.2zM525.4 382.5l3.2 3.2l-3.2 3.2l-3.2 -3.2zM526.3 383.1l3.2 3.2l-3.2 3.2l-3.2 -3.2zM527.2 383.2l3.2 3.2l-3.2 3.2l-3.2 -3.2zM528.1 383.8l3.2 3.2l-3.2 3.2l-3.2 -3.2zM529 383.9l3.2 3.2l-3.2 3.2l-3.2 -3.2zM529.9 383.5l3.2 3.2l-3.2 3.2l-3.2 -3.2zM530.8 384.6l3.2 3.2l-3.2 3.2l-3.2 -3.2zM531.7 383.8l3.2 3.2l-3.2 3.2l-3.2 -3.2zM532.6 384.6l3.2 3.2l-3.2 3.2l-3.2 -3.2zM533.5 384.2l3.2 3.2l-3.2 3.2l-3.2 -3.2zM534.4 384.2l3.2 3.2l-3.2 3.2l-3.2 -3.2zM535.3 384.6l3.2 3.2l-3.2 3.2l-3.2 -3.2zM536.2 384.6l3.2 3.2l-3.2 3.2l-3.2 -3.2zM537.1 385.4l3.2 3.2l-3.2 3.2l-3.2 -3.2zM538 384.3l3.2 3.2l-3.2 3.2l-3.2 -3.2zM538.9 385.5l3.2 3.2l-3.2 3.2l-3.2 -3.2zM539.8 385.3l3.2 3.2l-3.2 3.2l-3.2 -3.2zM540.7 385.1l3.2 3.2l-3.2 3.2l-3.2 -3.2zM541.6 385l3.2 3.2l-3.2 3.2l-3.2 -3.2zM542.5 385.9l3.2 3.2l-3.2 3.2l-3.2 -3.2zM543.4 386.1l3.2 3.2l-3.2 3.2l-3.2 -3.2zM544.3 385.7l3.2 3.2l-3.2 3.2l-3.2 -3.2zM545.2 385.7l3.2 3.2l-3.2 3.2l-3.2 -3.2zM546.1 387.3l3.2 3.2l-3.2 3.2l-3.2 -3.2zM547 386.6l3.2 3.2l-3.2 3.2l-3.2 -3.2zM547.9 386.1l3.2 3.2l-3.2 3.2l-3.2 -3.2zM548.8 387.4l3.2 3.2l-3.2 3.2l-3.2 -3.2zM549.7 386.9l3.2 3.2l-3.2 3.2l-3.2 -3.2zM550.6 387.6l3.2 3.2l-3.2 3.2l-3.2 -3.2zM551.5 387.2l3.2 3.2l-3.2 3.2l-3.2 -3.2zM552.4 388.3l3.2 3.2l-3.2 3.2l-3.2 -3.2zM553.3 387.6l3.2 3.2l-3.2 3.2l-3.2 -3.2zM554.2 387.3l3.2 3.2l-3.2 3.2l-3.2 -3.2zM555.1 387.5l3.2 3.2l-3.2 3.2l-3.2 -3.2zM556 388.3l3.2 3.2l-3.2 3.2l-3.2 -3.2zM556.9 388.2l3.2 3.2l-3.2 3.2l-3.2 -3.2zM557.8 388.2l3.2 3.2l-3.2 3.2l-3.2 -3.2zM558.7 388.4l3.2 3.2l-3.2 3.2l-3.2 -3.2zM559.6 388.7l3.2 3.2l-3.2 3.2l-3.2 -3.2zM560.5 388l3.2 3.2l-3.2 3.2l-3.2 -3.2zM561.4 389.1l3.2 3.2l-3.2 3.2l-3.2 -3.2zM562.3 388.7l3.2 3.2l-3.2 3.2l-3.2 -3.2zM563.2 389.2l3.2 3.2l-3.2 3.2l-3.2 -3.2zM564.1 389.5l3.2 3.2l-3.2 3.2l-3.2 -3.2zM565 389.6l3.2 3.2l-3.2 3.2l-3.2 -3.2zM565.9 390.2l3.2 3.2l-3.2 3.2l-3.2 -3.2zM566.8 389.6l3.2 3.2l-3.2 3.2l-3.2 -3.2zM567.7 390.1l3.2 3.2l-3.2 3.2l-3.2 -3.2zM568.6 389.7l3.2 3.2l-3.2 3.2l-3.2 -3.2zM569.5 390.8l3.2 3.2l-3.2 3.2l-3.2 -3.2zM570.4 390.7l3.2 3.2l-3.2 3.2l-3.2 -3.2zM571.3 391.1l3.2 3.2l-3.2 3.2l-3.2 -3.2zM572.2 391.6l3.2 3.2l-3.2 3.2l-3.2 -3.2zM573.1 391.9l3.2 3.2l-3.2 3.2l-3.2 -3.2zM574 392l3.2 3.2l-3.2 3.2l-3.2 -3.2zM574.9 392l3.2 3.2l-3.2 3.2l-3.2 -3.2zM575.8 392.1l3.2 3.2l-3.2 3.2l-3.2 -3.2zM576.7 392.7l3.2 3.2l-3.2 3.2l-3.2 -3.2zM577.6 393.5l3.2 3.2l-3.2 3.2l-3.2 -3.2zM578.5 393.6l3.2 3.2l-3.2 3.2l-3.2 -3.2zM579.4 393.2l3.2 3.2l-3.2 3.2l-3.2 -3.2zM580.3 393.1l3.2 3.2l-3.2 3.2l-3.2 -3.2zM581.2 393.2l3.2 3.2l-3.2 3.2l-3.2 -3.2zM582.1 393.9l3.2 3.2l-3.2 3.2l-3.2 -3.2zM583 393.6l3.2 3.2l-3.2 3.2l-3.2 -3.2zM583.9 393.9l3.2 3.2l-3.2 3.2l-3.2 -3.2zM584.8 394.2l3.2 3.2l-3.2 3.2l-3.2 -3.2zM585.7 395.7l3.2 3.2l-3.2 3.2l-3.2 -3.2zM586.6 394.9l3.2 3.2l-3.2 3.2l-3.2 -3.2zM587.5 395.7l3.2 3.2l-3.2 3.2l-3.2 -3.2zM588.4 395.5l3.2 3.2l-3.2 3.2l-3.2 -3.2zM589.3 396.1l3.2 3.2l-3.2 3.2l-3.2 -3.2zM590.2 396l3.2 3.2l-3.2 3.2l-3.2 -3.2zM591.1 396.1l3.2 3.2l-3.2 3.2l-3.2 -3.2zM592 396.7l3.2 3.2l-3.2 3.2l-3.2 -3.2zM592.9 395.8l3.2 3.2l-3.2 3.2l-3.2 -3.2zM593.8 396.5l3.2 3.2l-3.2 3.2l-3.2 -3.2zM594.7 398.5l3.2 3.2l-3.2 3.2l-3.2 -3.2zM595.6 397.7l3.2 3.2l-3.2 3.2l-3.2 -3.2zM596.5 396.6l3.2 3.2l-3.2 3.2l-3.2 -3.2zM597.4 398l3.2 3.2l-3.2 3.2l-3.2 -3.2zM598.3 398l3.2 3.2l-3.2 3.2l-3.2 -3.2zM599.2 398.3l3.2 3.2l-3.2 3.2l-3.2 -3.2zM600.1 399.3l3.2 3.2l-3.2 3.2l-3.2 -3.2zM601 399l3.2 3.2l-3.2 3.2l-3.2 -3.2zM601.9 399l3.2 3.2l-3.2 3.2l-3.2 -3.2zM602.8 399.9l3.2 3.2l-3.2 3.2l-3.2 -3.2zM603.7 400.2l3.2 3.2l-3.2 3.2l-3.2 -3.2zM604.6 400l3.2 3.2l-3.2 3.2l-3.2 -3.2zM605.5 400.9l3.2 3.2l-3.2 3.2l-3.2 -3.2zM606.4 400.4l3.2 3.2l-3.2 3.2l-3.2 -3.2zM607.3 399.9l3.2 3.2l-3.2 3.2l-3.2 -3.2zM608.2 400.6l3.2 3.2l-3.2 3.2l-3.2 -3.2zM609.1 402.1l3.2 3.2l-3.2 3.2l-3.2 -3.2zM610 402.3l3.2 3.2l-3.2 3.2l-3.2 -3.2zM610.9 401l3.2 3.2l-3.2 3.2l-3.2 -3.2zM611.8 401.8l3.2 3.2l-3.2 3.2l-3.2 -3.2zM612.7 402.1l3.2 3.2l-3.2 3.2l-3.2 -3.2zM613.6 402.7l3.2 3.2l-3.2 3.2l-3.2 -3.2zM614.5 401.7l3.2 3.2l-3.2 3.2l-3.2 -3.2zM615.4 403.4l3.2 3.2l-3.2 3.2l-3.2 -3.2zM616.3 403.5l3.2 3.2l-3.2 3.2l-3.2 -3.2zM617.2 403.2l3.2 3.2l-3.2 3.2l-3.2 -3.2zM618.1 404.6l3.2 3.2l-3.2 3.2l-3.2 -3.2zM619 404.2l3.2 3.2l-3.2 3.2l-3.2 -3.2zM619.9 404l3.2 3.2l-3.2 3.2l-3.2 -3.2zM620.8 404.7l3.2 3.2l-3.2 3.2l-3.2 -3.2zM621.7 404.1l3.2 3.2l-3.2 3.2l-3.2 -3.2zM622.6 405.1l3.2 3.2l-3.2 3.2l-3.2 -3.2zM623.5 404.8l3.2 3.2l-3.2 3.2l-3.2 -3.2zM624.4 404.9l3.2 3.2l-3.2 3.2l-3.2 -3.2zM625.3 405.2l3.2 3.2l-3.2 3.2l-3.2 -3.2zM626.2 405.3l3.2 3.2l-3.2 3.2l-3.2 -3.2zM627.1 406.4l3.2 3.2l-3.2 3.2l-3.2 -3.2zM628 406.3l3.2 3.2l-3.2 3.2l-3.2 -3.2zM628.9 406.3l3.2 3.2l-3.2 3.2l-3.2 -3.2zM629.8 406.7l3.2 3.2l-3.2 3.2l-3.2 -3.2zM630.7 407.2l3.2 3.2l-3.2 3.2l-3.2 -3.2zM631.6 407.9l3.2 3.2l-3.2 3.2l-3.2 -3.2zM632.5 408.4l3.2 3.2l-3.2 3.2l-3.2 -3.2zM633.4 408.3l3.2 3.2l-3.2 3.2l-3.2 -3.2zM634.3 407.7l3.2 3.2l-3.2 3.2l-3.2 -3.2zM635.2 407.6l3.2 3.2l-3.2 3.2l-3.2 -3.2zM636.1 408.3l3.2 3.2l-3.2 3.2l-3.2 -3.2zM637 408.2l3.2 3.2l-3.2 3.2l-3.2 -3.2zM637.9 410l3.2 3.2l-3.2 3.2l-3.2 -3.2zM638.8 409.2l3.2 3.2l-3.2 3.2l-3.2 -3.2zM639.7 410l3.2 3.2l-3.2 3.2l-3.2 -3.2zM640.6 409.8l3.2 3.2l-3.2 3.2l-3.2 -3.2zM641.5 410.5l3.2 3.2l-3.2 3.2l-3.2 -3.2zM642.4 410.2l3.2 3.2l-3.2 3.2l-3.2 -3.2zM643.3 410.2l3.2 3.2l-3.2 3.2l-3.2 -3.2zM644.2 410.2l3.2 3.2l-3.2 3.2l-3.2 -3.2zM645.1 411.3l3.2 3.2l-3.2 3.2l-3.2 -3.2zM646 411.8l3.2 3.2l-3.2 3.2l-3.2 -3.2zM646.9 411.3l3.2 3.2l-3.2 3.2l-3.2 -3.2zM647.8 412.2l3.2 3.2l-3.2 3.2l-3.2 -3.2zM648.7 412.8l3.2 3.2l-3.2 3.2l-3.2 -3.2zM649.6 412.2l3.2 3.2l-3.2 3.2l-3.2 -3.2zM650.5 412.4l3.2 3.2l-3.2 3.2l-3.2 -3.2zM651.4 413.1l3.2 3.2l-3.2 3.2l-3.2 -3.2zM652.3 413.1l3.2 3.2l-3.2 3.2l-3.2 -3.2zM653.2 413.2l3.2 3.2l-3.2 3.2l-3.2 -3.2zM654.1 413.8l3.2 3.2l-3.2 3.2l-3.2 -3.2zM655 413l3.2 3.2l-3.2 3.2l-3.2 -3.2zM655.9 413.9l3.2 3.2l-3.2 3.2l-3.2 -3.2zM656.8 413.2l3.2 3.2l-3.2 3.2l-3.2 -3.2zM657.7 414.6l3.2 3.2l-3.2 3.2l-3.2 -3.2zM658.6 415.4l3.2 3.2l-3.2 3.2l-3.2 -3.2zM659.5 415.9l3.2 3.2l-3.2 3.2l-3.2 -3.2zM660 414.1l3.2 3.2l-3.2 3.2l-3.2 -3.2zM660.9 415.9l3.2 3.2l-3.2 3.2l-3.2 -3.2zM661.8 416.1l3.2 3.2l-3.2 3.2l-3.2 -3.2zM662.7 416.3l3.2 3.2l-3.2 3.2l-3.2 -3.2zM663.6 416.4l3.2 3.2l-3.2 3.2l-3.2 -3.2zM664.5 417.1l3.2 3.2l-3.2 3.2l-3.2 -3.2zM665.4 417.1l3.2 3.2l-3.2 3.2l-3.2 -3.2zM666.3 417.3l3.2 3.2l-3.2 3.2l-3.2 -3.2zM667.2 417.3l3.2 3.2l-3.2 3.2l-3.2 -3.2zM668.1 417.9l3.2 3.2l-3.2 3.2l-3.2 -3.2zM669 417.8l3.2 3.2l-3.2 3.2l-3.2 -3.2zM669.9 417.6l3.2 3.2l-3.2 3.2l-3.2 -3.2zM670.8 418.7l3.2 3.2l-3.2 3.2l-3.2 -3.2zM671.7 418.9l3.2 3.2l-3.2 3.2l-3.2 -3.2zM672.6 418.9l3.2 3.2l-3.2 3.2l-3.2 -3.2zM673.5 418.1l3.2 3.2l-3.2 3.2l-3.2 -3.2zM674.4 417.8l3.2 3.2l-3.2 3.2l-3.2 -3.2zM675.3 418.5l3.2 3.2l-3.2 3.2l-3.2 -3.2zM676.2 418.4l3.2 3.2l-3.2 3.2l-3.2 -3.2zM677.1 420l3.2 3.2l-3.2 3.2l-3.2 -3.2zM678 419.4l3.2 3.2l-3.2 3.2l-3.2 -3.2zM678.9 419.2l3.2 3.2l-3.2 3.2l-3.2 -3.2zM679.8 418.7l3.2 3.2l-3.2 3.2l-3.2 -3.2zM680.7 419.6l3.2 3.2l-3.2 3.2l-3.2 -3.2zM681.6 418.2l3.2 3.2l-3.2 3.2l-3.2 -3.2zM682.5 419.4l3.2 3.2l-3.2 3.2l-3.2 -3.2zM683.4 420.6l3.2 3.2l-3.2 3.2l-3.2 -3.2zM684.3 420.2l3.2 3.2l-3.2 3.2l-3.2 -3.2zM685.2 420.2l3.2 3.2l-3.2 3.2l-3.2 -3.2zM686.1 420.2l3.2 3.2l-3.2 3.2l-3.2 -3.2zM687 420.3l3.2 3.2l-3.2 3.2l-3.2 -3.2zM687.9 419.6l3.2 3.2l-3.2 3.2l-3.2 -3.2zM688.8 419.2l3.2 3.2l-3.2 3.2l-3.2 -3.2zM689.7 418.2l3.2 3.2l-3.2 3.2l-3.2 -3.2zM690.6 418.6l3.2 3.2l-3.2 3.2l-3.2 -3.2zM691.5 419.2l3.2 3.2l-3.2 3.2l-3.2 -3.2zM692.4 420l3.2 3.2l-3.2 3.2l-3.2 -3.2zM693.3 418.6l3.2 3.2l-3.2 3.2l-3.2 -3.2zM694.2 418.1l3.2 3.2l-3.2 3.2l-3.2 -3.2zM695.1 418.9l3.2 3.2l-3.2 3.2l-3.2 -3.2zM696 419.2l3.2 3.2l-3.2 3.2l-3.2 -3.2zM696.9 420.2l3.2 3.2l-3.2 3.2l-3.2 -3.2zM697.8 419.2l3.2 3.2l-3.2 3.2l-3.2 -3.2zM698.7 420.4l3.2 3.2l-3.2 3.2l-3.2 -3.2zM699.6 420.4l3.2 3.2l-3.2 3.2l-3.2 -3.2zM700.5 422.1l3.2 3.2l-3.2 3.2l-3.2 -3.2zM701.4 422.5l3.2 3.2l-3.2 3.2l-3.2 -3.2zM702.3 422l3.2 3.2l-3.2 3.2l-3.2 -3.2zM703.2 422.3l3.2 3.2l-3.2 3.2l-3.2 -3.2zM704.1 422.1l3.2 3.2l-3.2 3.2l-3.2 -3.2zM705 422.8l3.2 3.2l-3.2 3.2l-3.2 -3.2zM705.9 422.4l3.2 3.2l-3.2 3.2l-3.2 -3.2zM706.8 423l3.2 3.2l-3.2 3.2l-3.2 -3.2zM707.7 423.6l3.2 3.2l-3.2 3.2l-3.2 -3.2zM708.6 423.6l3.2 3.2l-3.2 3.2l-3.2 -3.2zM709.5 423.5l3.2 3.2l-3.2 3.2l-3.2 -3.2zM710.4 424.3l3.2 3.2l-3.2 3.2l-3.2 -3.2zM711.3 424.3l3.2 3.2l-3.2 3.2l-3.2 -3.2zM712.2 425.5l3.2 3.2l-3.2 3.2l-3.2 -3.2zM713.1 424.8l3.2 3.2l-3.2 3.2l-3.2 -3.2zM714 425.7l3.2 3.2l-3.2 3.2l-3.2 -3.2zM714.9 425.3l3.2 3.2l-3.2 3.2l-3.2 -3.2zM715.8 425.3l3.2 3.2l-3.2 3.2l-3.2 -3.2zM716.7 426.1l3.2 3.2l-3.2 3.2l-3.2 -3.2zM717.6 427.1l3.2 3.2l-3.2 3.2l-3.2 -3.2zM718.5 428.4l3.2 3.2l-3.2 3.2l-3.2 -3.2zM719.4 429.4l3.2 3.2l-3.2 3.2l-3.2 -3.2zM720.3 430.8l3.2 3.2l-3.2 3.2l-3.2 -3.2zM721.2 431.3l3.2 3.2l-3.2 3.2l-3.2 -3.2zM722.1 432l3.2 3.2l-3.2 3.2l-3.2 -3.2zM723 432.4l3.2 3.2l-3.2 3.2l-3.2 -3.2zM723.9 433.2l3.2 3.2l-3.2 3.2l-3.2 -3.2zM724.8 433.3l3.2 3.2l-3.2 3.2l-3.2 -3.2zM725.7 433.4l3.2 3.2l-3.2 3.2l-3.2 -3.2zM726.6 433.5l3.2 3.2l-3.2 3.2l-3.2 -3.2zM727.5 433.7l3.2 3.2l-3.2 3.2l-3.2 -3.2zM728.4 433.3l3.2 3.2l-3.2 3.2l-3.2 -3.2zM729.3 433.1l3.2 3.2l-3.2 3.2l-3.2 -3.2zM730.2 434l3.2 3.2l-3.2 3.2l-3.2 -3.2zM731.1 434.7l3.2 3.2l-3.2 3.2l-3.2 -3.2zM732 434.7l3.2 3.2l-3.2 3.2l-3.2 -3.2zM732.9 436.2l3.2 3.2l-3.2 3.2l-3.2 -3.2zM733.8 434.7l3.2 3.2l-3.2 3.2l-3.2 -3.2zM734.7 434.6l3.2 3.2l-3.2 3.2l-3.2 -3.2zM735.6 434.8l3.2 3.2l-3.2 3.2l-3.2 -3.2zM736.5 435l3.2 3.2l-3.2 3.2l-3.2 -3.2zM737.4 434.4l3.2 3.2l-3.2 3.2l-3.2 -3.2zM738.3 435.3l3.2 3.2l-3.2 3.2l-3.2 -3.2zM739.2 435.4l3.2 3.2l-3.2 3.2l-3.2 -3.2zM740.1 434.2l3.2 3.2l-3.2 3.2l-3.2 -3.2zM741 434.3l3.2 3.2l-3.2 3.2l-3.2 -3.2zM741.9 434.7l3.2 3.2l-3.2 3.2l-3.2 -3.2zM742.8 434.3l3.2 3.2l-3.2 3.2l-3.2 -3.2zM743.7 434.8l3.2 3.2l-3.2 3.2l-3.2 -3.2zM744.6 436l3.2 3.2l-3.2 3.2l-3.2 -3.2zM745.5 437.2l3.2 3.2l-3.2 3.2l-3.2 -3.2zM746.4 436.7l3.2 3.2l-3.2 3.2l-3.2 -3.2zM747.3 436.3l3.2 3.2l-3.2 3.2l-3.2 -3.2zM748.2 436.7l3.2 3.2l-3.2 3.2l-3.2 -3.2zM749.1 439.1l3.2 3.2l-3.2 3.2l-3.2 -3.2zM750 438.6l3.2 3.2l-3.2 3.2l-3.2 -3.2zM750.9 439.4l3.2 3.2l-3.2 3.2l-3.2 -3.2zM751.8 440.7l3.2 3.2l-3.2 3.2l-3.2 -3.2zM752.7 440.9l3.2 3.2l-3.2 3.2l-3.2 -3.2zM753.6 442.5l3.2 3.2l-3.2 3.2l-3.2 -3.2zM754.5 442.6l3.2 3.2l-3.2 3.2l-3.2 -3.2zM755.4 440.8l3.2 3.2l-3.2 3.2l-3.2 -3.2zM756.3 441.5l3.2 3.2l-3.2 3.2l-3.2 -3.2zM757.2 438.9l3.2 3.2l-3.2 3.2l-3.2 -3.2zM758.1 440l3.2 3.2l-3.2 3.2l-3.2 -3.2zM759 439.8l3.2 3.2l-3.2 3.2l-3.2 -3.2zM759.9 440.5l3.2 3.2l-3.2 3.2l-3.2 -3.2zM760.8 440.2l3.2 3.2l-3.2 3.2l-3.2 -3.2zM761.7 440.9l3.2 3.2l-3.2 3.2l-3.2 -3.2zM762.6 440.7l3.2 3.2l-3.2 3.2l-3.2 -3.2zM763.5 441.8l3.2 3.2l-3.2 3.2l-3.2 -3.2zM764.4 441.9l3.2 3.2l-3.2 3.2l-3.2 -3.2zM765.3 442l3.2 3.2l-3.2 3.2l-3.2 -3.2zM766.2 441.8l3.2 3.2l-3.2 3.2l-3.2 -3.2zM767.1 442.1l3.2 3.2l-3.2 3.2l-3.2 -3.2zM768 443l3.2 3.2l-3.2 3.2l-3.2 -3.2zM768.9 444.3l3.2 3.2l-3.2 3.2l-3.2 -3.2zM769.8 443.3l3.2 3.2l-3.2 3.2l-3.2 -3.2zM770.7 444.6l3.2 3.2l-3.2 3.2l-3.2 -3.2zM771.6 445.8l3.2 3.2l-3.2 3.2l-3.2 -3.2zM772.5 446.5l3.2 3.2l-3.2 3.2l-3.2 -3.2zM773.4 446.3l3.2 3.2l-3.2 3.2l-3.2 -3.2zM774.3 447l3.2 3.2l-3.2 3.2l-3.2 -3.2zM775.2 447l3.2 3.2l-3.2 3.2l-3.2 -3.2zM776.1 448.4l3.2 3.2l-3.2 3.2l-3.2 -3.2zM777 446.9l3.2 3.2l-3.2 3.2l-3.2 -3.2zM777.9 448.9l3.2 3.2l-3.2 3.2l-3.2 -3.2zM778.8 448.8l3.2 3.2l-3.2 3.2l-3.2 -3.2zM779.7 448.9l3.2 3.2l-3.2 3.2l-3.2 -3.2zM780.6 451.3l3.2 3.2l-3.2 3.2l-3.2 -3.2zM781.5 449.9l3.2 3.2l-3.2 3.2l-3.2 -3.2zM782.4 449.9l3.2 3.2l-3.2 3.2l-3.2 -3.2zM783.3 449.5l3.2 3.2l-3.2 3.2l-3.2 -3.2zM784.2 451.6l3.2 3.2l-3.2 3.2l-3.2 -3.2zM785.1 451.6l3.2 3.2l-3.2 3.2l-3.2 -3.2zM786 452.9l3.2 3.2l-3.2 3.2l-3.2 -3.2zM786.9 454.3l3.2 3.2l-3.2 3.2l-3.2 -3.2zM787.8 455.3l3.2 3.2l-3.2 3.2l-3.2 -3.2zM788.7 453.6l3.2 3.2l-3.2 3.2l-3.2 -3.2zM789.6 454.6l3.2 3.2l-3.2 3.2l-3.2 -3.2zM790.5 453.3l3.2 3.2l-3.2 3.2l-3.2 -3.2zM791.4 454.1l3.2 3.2l-3.2 3.2l-3.2 -3.2zM792.3 454.7l3.2 3.2l-3.2 3.2l-3.2 -3.2zM793.2 455.6l3.2 3.2l-3.2 3.2l-3.2 -3.2zM794.1 456.3l3.2 3.2l-3.2 3.2l-3.2 -3.2zM795 453l3.2 3.2l-3.2 3.2l-3.2 -3.2zM795.9 453.3l3.2 3.2l-3.2 3.2l-3.2 -3.2zM796.8 452.6l3.2 3.2l-3.2 3.2l-3.2 -3.2zM797.7 453.7l3.2 3.2l-3.2 3.2l-3.2 -3.2zM798.6 456.3l3.2 3.2l-3.2 3.2l-3.2 -3.2zM799.5 455.7l3.2 3.2l-3.2 3.2l-3.2 -3.2zM800.4 456.8l3.2 3.2l-3.2 3.2l-3.2 -3.2zM801.3 458.8l3.2 3.2l-3.2 3.2l-3.2 -3.2zM802.2 459.1l3.2 3.2l-3.2 3.2l-3.2 -3.2zM803.1 460.4l3.2 3.2l-3.2 3.2l-3.2 -3.2zM804 460l3.2 3.2l-3.2 3.2l-3.2 -3.2zM804.9 459.6l3.2 3.2l-3.2 3.2l-3.2 -3.2zM805.8 462.1l3.2 3.2l-3.2 3.2l-3.2 -3.2zM806.7 460.6l3.2 3.2l-3.2 3.2l-3.2 -3.2zM807.6 461.8l3.2 3.2l-3.2 3.2l-3.2 -3.2zM808.5 460.9l3.2 3.2l-3.2 3.2l-3.2 -3.2zM809.4 462.4l3.2 3.2l-3.2 3.2l-3.2 -3.2zM810.3 462.6l3.2 3.2l-3.2 3.2l-3.2 -3.2zM811.2 462.9l3.2 3.2l-3.2 3.2l-3.2 -3.2zM812.1 464.3l3.2 3.2l-3.2 3.2l-3.2 -3.2zM813 465.9l3.2 3.2l-3.2 3.2l-3.2 -3.2zM813.9 466.1l3.2 3.2l-3.2 3.2l-3.2 -3.2zM814.8 466.8l3.2 3.2l-3.2 3.2l-3.2 -3.2zM815.7 467.2l3.2 3.2l-3.2 3.2l-3.2 -3.2zM816.6 466.6l3.2 3.2l-3.2 3.2l-3.2 -3.2zM817.5 467.4l3.2 3.2l-3.2 3.2l-3.2 -3.2zM818.4 468.5l3.2 3.2l-3.2 3.2l-3.2 -3.2zM819.3 469.8l3.2 3.2l-3.2 3.2l-3.2 -3.2zM820.2 471.5l3.2 3.2l-3.2 3.2l-3.2 -3.2zM821.1 471.4l3.2 3.2l-3.2 3.2l-3.2 -3.2zM822 470.8l3.2 3.2l-3.2 3.2l-3.2 -3.2zM822.9 472.3l3.2 3.2l-3.2 3.2l-3.2 -3.2zM823.8 473.1l3.2 3.2l-3.2 3.2l-3.2 -3.2zM824.7 474.2l3.2 3.2l-3.2 3.2l-3.2 -3.2zM825.6 475.1l3.2 3.2l-3.2 3.2l-3.2 -3.2zM826.5 476.2l3.2 3.2l-3.2 3.2l-3.2 -3.2zM827.4 477.3l3.2 3.2l-3.2 3.2l-3.2 -3.2zM828.3 476.9l3.2 3.2l-3.2 3.2l-3.2 -3.2zM829.2 478.9l3.2 3.2l-3.2 3.2l-3.2 -3.2zM830.1 479.5l3.2 3.2l-3.2 3.2l-3.2 -3.2zM831 480.5l3.2 3.2l-3.2 3.2l-3.2 -3.2zM831.9 480.9l3.2 3.2l-3.2 3.2l-3.2 -3.2zM832.8 481.7l3.2 3.2l-3.2 3.2l-3.2 -3.2zM833.7 482.3l3.2 3.2l-3.2 3.2l-3.2 -3.2zM834.6 484.6l3.2 3.2l-3.2 3.2l-3.2 -3.2zM835.5 483.7l3.2 3.2l-3.2 3.2l-3.2 -3.2zM836.4 486.7l3.2 3.2l-3.2 3.2l-3.2 -3.2zM837.3 487.7l3.2 3.2l-3.2 3.2l-3.2 -3.2zM838.2 489.5l3.2 3.2l-3.2 3.2l-3.2 -3.2zM839.1 491.1l3.2 3.2l-3.2 3.2l-3.2 -3.2zM840 492.7l3.2 3.2l-3.2 3.2l-3.2 -3.2zM840.9 493.3l3.2 3.2l-3.2 3.2l-3.2 -3.2zM880.2 655.8l3.2 3.2l-3.2 3.2l-3.2 -3.2zM881 656.5l3.2 3.2l-3.2 3.2l-3.2 -3.2zM881.8 655.9l3.2 3.2l-3.2 3.2l-3.2 -3.2zM882.6 655.4l3.2 3.2l-3.2 3.2l-3.2 -3.2zM883.4 656.8l3.2 3.2l-3.2 3.2l-3.2 -3.2zM884.2 656.2l3.2 3.2l-3.2 3.2l-3.2 -3.2zM885 655.1l3.2 3.2l-3.2 3.2l-3.2 -3.2zM885.8 656.8l3.2 3.2l-3.2 3.2l-3.2 -3.2zM886.6 656.6l3.2 3.2l-3.2 3.2l-3.2 -3.2zM887.4 655.8l3.2 3.2l-3.2 3.2l-3.2 -3.2zM888.2 656.4l3.2 3.2l-3.2 3.2l-3.2 -3.2zM889 656.9l3.2 3.2l-3.2 3.2l-3.2 -3.2zM889.8 655.9l3.2 3.2l-3.2 3.2l-3.2 -3.2zM890.6 656l3.2 3.2l-3.2 3.2l-3.2 -3.2zM891.4 655.7l3.2 3.2l-3.2 3.2l-3.2 -3.2z" fill="#00ff00"/>
<path d="M521.8 400.2h0M522.4 400.1h0M523 400h0M523.6 400h0M524.2 400.8h0M524.8 400.8h0M525.4 400.8h0M526 400.9h0M526.6 401.3h0M527.2 401.5h0M527.8 401.6h0M528.4 401.5h0M529 401.8h0M529.6 401.5h0M530.2 401.8h0M530.8 402.1h0M531.4 402.6h0M532 402.7h0M532.6 403.1h0M533.2 403.4h0M533.8 403.2h0M534.4 403.4h0M535 403.4h0M535.6 403.6h0M536.2 403.9h0M536.8 404h0M537.4 404.2h0M538 404.2h0M538.6 403.8h0M539.2 404.4h0M539.8 404.6h0M540.4 405h0M541 405.5h0M541.6 405.9h0M542.2 406h0M542.8 405.9h0M543.4 405.8h0M544 406.3h0M544.6 406.3h0M545.2 406.4h0M545.8 406.5h0M546.4 406.8h0M547 406.7h0M547.6 406.7h0M548.2 407h0M548.8 407.5h0M549.4 407.4h0M550 407.6h0M550.6 407.8h0M551.2 407.4h0M551.8 407.6h0M552.4 408h0M553 407.8h0M553.6 407.9h0M554.2 408.1h0M554.8 408.8h0M555.4 408.4h0M556 408.8h0M556.6 409.3h0M557.2 409.5h0M557.8 409.1h0M558.4 409.4h0M559 409.4h0M559.6 409.6h0M560.2 409.6h0M560.8 410.3h0M561.4 410.2h0M562 410.3h0M562.6 411.1h0M563.2 411.4h0M563.8 410.5h0M564.4 410.9h0M565 410.9h0M565.6 411.4h0M566.2 411.3h0M566.8 412.1h0M567.4 412.4h0M568 412.3h0M568.6 412h0M569.2 411.7h0M569.8 412.4h0M570.4 412.8h0M571 413h0M571.6 412.7h0M572.2 413.1h0M572.8 413.2h0M573.4 413.3h0M574 413.6h0M574.6 414.1h0M575.2 414.7h0M575.8 414.2h0M576.4 413.9h0M577 414h0M577.6 414.5h0M578.2 414.5h0M578.8 415.1h0M579.4 415.4h0M580 416.1h0M580.6 416.1h0M581.2 416.1h0M581.8 416.3h0M582.4 416.2h0M583 416.1h0M583.6 416.5h0M584.2 416.1h0M584.8 416h0M585.4 416.5h0M586 416.9h0M586.6 416.9h0M587.2 417.2h0M587.8 417.4h0M588.4 417.8h0M589 418.3h0M589.6 418.1h0M590.2 418.7h0M590.8 417.9h0M591.4 417.7h0M592 417.6h0M592.6 418.1h0M593.2 418.9h0M593.8 418.7h0M594.4 419h0M595 419.5h0M595.6 419.6h0M596.2 419.6h0M596.8 419.6h0M597.4 419.9h0M598 419.8h0M598.6 420.1h0M599.2 420.3h0M599.8 420.1h0M600.4 420h0M601 421h0M601.6 420.5h0M602.2 420.5h0M602.8 421h0M603.4 421.3h0M604 421.5h0M604.6 422.1h0M605.2 422h0M605.8 421.9h0M606.4 421.6h0M607 422h0M607.6 422.2h0M608.2 422.4h0M608.8 422.8h0M609.4 423h0M610 423.3h0M610.6 423.7h0M611.2 423.5h0M611.8 423.3h0M612.4 423.5h0M613 423.4h0M613.6 423.3h0M614.2 424.2h0M614.8 424.7h0M615.4 424.7h0M616 424.9h0M616.6 425h0M617.2 425.2h0M617.8 425.2h0M618.4 425.7h0M619 425.6h0M619.6 425.5h0M620.2 426.1h0M620.8 426.4h0M621.4 426.5h0M622 426.8h0M622.6 427h0M623.2 427.9h0M623.8 427.6h0M624.4 427.8h0M625 428.1h0M625.6 428.1h0M626.2 428h0M626.8 428.3h0M627.4 428.6h0M628 428.3h0M628.6 428.5h0M629.2 428.7h0M629.8 428.9h0M630.4 429.1h0M631 429.7h0M631.6 429.7h0M632.2 429.9h0M632.8 429.7h0M633.4 430.3h0M634 430.5h0M634.6 430.3h0M635.2 430.4h0M635.8 430.5h0M636.4 430.8h0M637 431.1h0M637.6 431.2h0M638.2 431.7h0M638.8 431.9h0M639.4 432.1h0M640 432.1h0M640 431.2h0M640.6 433h0M641.2 433.6h0M641.8 432.7h0M642.4 432.6h0M643 433.9h0M643.6 434.1h0M644.2 434.1h0M644.8 434.7h0M645.4 435.4h0M646 435.2h0M646.6 434h0M647.2 434.5h0M647.8 435.1h0M648.4 434.7h0M649 434.9h0M649.6 435.7h0M650.2 435.5h0M650.8 435.6h0M651.4 435.8h0M652 435.6h0M652.6 436.2h0M653.2 437.1h0M653.8 436h0M654.4 438h0M655 437.6h0M655.6 437.7h0M656.2 436.8h0M656.8 436.1h0M657.4 436.6h0M658 435.9h0M658.6 438.1h0M659.2 438.2h0M659.8 437.8h0M660.4 437.4h0M661 438.9h0M661.6 438.6h0M662.2 438.5h0M662.8 437.3h0M663.4 439.5h0M664 438.5h0M664.6 439.2h0M665.2 439.6h0M665.8 441.7h0M666.4 438.8h0M667 440.2h0M667.6 439h0M668.2 439.1h0M668.8 438.9h0M669.4 439.6h0M670 440.7h0M670.6 440.3h0M671.2 441.2h0M671.8 440.8h0M672.4 441.7h0M673 442.5h0M673.6 443.4h0M674.2 442.5h0M674.8 441.5h0M675.4 443.4h0M676 442.9h0M676.6 442.3h0M677.2 444h0M677.8 443.8h0M678.4 443.5h0M679 443.8h0M679.6 444.9h0M680.2 444.9h0M680.8 445.4h0M681.4 444.7h0M682 444.1h0M682.6 445.7h0M683.2 445.9h0M683.8 444.7h0M684.4 445.5h0M685 446.1h0M685.6 447h0M686.2 446.7h0M686.8 445.9h0M687.4 445.5h0M688 446.8h0M688.6 447.8h0M689.2 447h0M689.8 448h0M690.4 447.9h0M691 449.4h0M691.6 448h0M692.2 449h0M692.8 448.3h0M693.4 448.5h0M694 449.2h0M694.6 448.5h0M695.2 449.9h0M695.8 449.2h0M696.4 450.2h0M697 450.3h0M697.6 449.7h0M698.2 450.4h0M698.8 450.8h0M699.4 450.8h0M700 451.6h0M700.6 451.6h0M701.2 452.7h0M701.8 452.8h0M702.4 452.5h0M703 452h0M703.6 452.3h0M704.2 452h0M704.8 453h0M705.4 453.7h0M706 453.4h0M706.6 452.9h0M707.2 453.1h0M707.8 453.9h0M708.4 453.6h0M709 454.4h0M709.6 454.5h0M710.2 453.8h0M710.8 453.7h0M711.4 453.7h0M712 455.8h0M712.6 455.7h0M713.2 455h0M713.8 455.2h0M714.4 456.1h0M715 457h0M715.6 457.2h0M716.2 456.7h0M716.8 458.1h0M717.4 458h0M718 458.5h0M718.6 458.3h0M719.2 457.7h0M719.8 457.5h0M720.4 459h0M721 460.4h0M721.6 460.2h0M722.2 458.8h0M722.8 458.3h0M723.4 459.5h0M724 459h0M724.6 459.1h0M725.2 460.4h0M725.8 459.9h0M726.4 459.6h0M727 460.6h0M727.6 460h0M728.2 460.7h0M728.8 461h0M729.4 460.9h0M730 460.4h0M730.6 461.6h0M731.2 462.4h0M731.8 462.3h0M732.4 463.6h0M733 463.4h0M733.6 463.9h0M734.2 464h0M734.8 464.2h0M735.4 463.4h0M736 464.8h0M736.6 464.4h0M737.2 463.3h0M737.8 464.6h0M738.4 463.8h0M739 462.6h0M739.6 465h0M740.2 466h0M740.8 466.3h0M741.4 467.1h0M742 466.1h0M742.6 466.7h0M743.2 467.7h0M743.8 467.5h0M744.4 466.5h0M745 465.3h0M745.6 466.3h0M746.2 467h0M746.8 467.6h0M747.4 468.7h0M748 468.7h0M748.6 468.2h0M749.2 469h0M749.8 470.3h0M750.4 467.6h0M751 468.3h0M751.6 470.7h0M752.2 469.9h0M752.8 470.1h0M753.4 468.8h0M754 468.7h0M754.6 468.5h0M755.2 470.2h0M755.8 471.2h0M756.4 470.8h0M757 471.1h0M757.6 472.5h0M758.2 472.2h0M758.8 473.8h0M759.4 472.3h0M760 472.2h0M760.6 472.9h0M761.2 472.2h0M761.8 472.6h0M762.4 471.9h0M763 474h0M763.6 475.3h0M764.2 474.6h0M764.8 474h0M765.4 474.7h0M766 474.6h0M766.6 474.4h0M767.2 475.4h0M767.8 475.7h0M768.4 476.1h0M769 476.9h0M769.6 476h0M770.2 477.8h0M770.8 478.5h0M771.4 478.3h0M772 477h0M772.6 477.1h0M773.2 476.6h0M773.8 477.5h0M774.4 479.2h0M775 480h0M775.6 479.4h0M776.2 479.5h0M776.8 480h0M777.4 479.7h0M778 481h0M778.6 481.7h0M779.2 481.4h0M779.8 480.9h0M780.4 481.3h0M781 481.6h0M781.6 483.4h0M782.2 482.5h0M782.8 482.3h0M783.4 482.2h0M784 482.2h0M784.6 483.2h0M785.2 483.4h0M785.8 484.5h0M786.4 484.7h0M787 485.4h0M787.6 485.5h0M788.2 484.6h0M788.8 485.3h0M789.4 486h0M790 486.3h0M790.6 487.1h0M791.2 487.3h0M791.8 486.9h0M792.4 487h0M793 487.8h0M793.6 487.1h0M794.2 488.3h0M794.8 487.6h0M795.4 488.1h0M796 486.9h0M796.6 486.8h0M797.2 489.2h0M797.8 488.5h0M798.4 488.9h0M799 488.2h0M799.6 489h0M800.2 491.6h0M800.8 489.6h0M801.4 489.7h0M802 489.8h0M802.6 490.8h0M803.2 492.8h0M803.8 491.7h0M804.4 491.5h0M805 491.8h0M805.6 493h0M806.2 494.2h0M806.8 494.7h0M807.4 494h0M808 495.2h0M808.6 494.8h0M809.2 494.7h0M809.8 495h0M810.4 494.7h0M811 494.8h0M811.6 495.8h0M812.2 495.7h0M812.8 498.5h0M813.4 497.9h0M814 499.7h0M814.6 498.9h0M815.2 497.9h0M815.8 498.6h0M816.4 499.1h0M817 499.6h0M817.6 500.5h0M818.2 500.8h0M818.8 501.4h0M819.4 501.5h0M820 501h0M820.6 502.2h0M821.2 502.2h0M821.8 501.3h0M822.4 501.6h0M823 503.1h0M823.6 503.7h0M824.2 503.5h0M824.8 504.2h0M825.4 504.7h0M826 505.2h0M826.6 505.5h0M827.2 506.4h0M827.8 505.5h0M828.4 506.3h0M829 507.7h0M829.6 507.6h0M830.2 506.5h0M830.8 507.9h0M831.4 509.1h0M832 509.1h0M832.6 508.7h0M833.2 509.9h0M833.8 509.4h0M834.4 510.7h0M835 510.2h0M835.6 510.2h0M836.2 510.8h0M836.8 511.5h0M837.4 511.5h0M838 511.1h0M838.6 511.7h0M839.2 514.6h0M839.8 514.1h0M840.4 513.5h0M841 514.5h0M841.6 516.8h0M837 546.3h0M864.3 658.2h0M864.9 657.9h0M865.5 658.5h0M866.1 658h0M866.7 658.1h0M867.3 658.4h0M867.9 658.1h0M868.5 658.4h0M869.1 658.6h0M869.7 658.1h0M870.3 658.6h0M870.9 658.2h0M871.5 658.5h0M872.1 658.7h0M872.7 658.8h0M873.3 658.3h0M873.9 658.4h0M874.5 659.1h0M875.1 658.6h0M875.7 658.7h0M876.3 658.7h0M876.9 659h0M877.5 659h0M878.1 659h0M878.7 658.8h0M879.3 659h0M879.9 659h0M880.5 658.7h0M881.1 659.4h0M881.7 659.4h0M882.3 659.3h0M882.9 659.5h0M883.5 659.1h0M884.1 659.4h0M884.7 659h0M885.3 659.4h0M885.9 659.4h0M886.5 659.6h0M887.1 659.6h0M887.7 659.6h0M888.3 659.2h0M888.9 659.6h0M889.5 659.4h0M890.1 659.3h0M890.7 659.4h0M891.3 659.7h0M891.9 659.8h0M892.5 659.8h0M893.1 659.7h0M893.7 659.4h0M894.3 659.4h0M894.9 659.7h0M556 392h0M584.3 400.1h0M592.7 400.7h0M609.6 406.3h0M793.6 457.7h0M836.4 489.9h0" stroke="#0000ff" stroke-width="1.70" stroke-linecap="round" fill="none"/>
<rect x="521.5" y="365.2" width="424.8" height="297.4" fill="none" stroke="#222" stroke-width="1.1"/>
<path d="M564 662.6v-8.6M564 365.2v8.6M648.9 662.6v-8.6M648.9 365.2v8.6M733.9 662.6v-8.6M733.9 365.2v8.6M818.9 662.6v-8.6M818.9 365.2v8.6M903.8 662.6v-8.6M903.8 365.2v8.6M606.5 662.6v-4.3M606.5 365.2v4.3M691.4 662.6v-4.3M691.4 365.2v4.3M776.4 662.6v-4.3M776.4 365.2v4.3M861.3 662.6v-4.3M861.3 365.2v4.3M521.5 660.2h8.6M946.3 660.2h-8.6M521.5 611h8.6M946.3 611h-8.6M521.5 561.9h8.6M946.3 561.9h-8.6M521.5 512.7h8.6M946.3 512.7h-8.6M521.5 463.5h8.6M946.3 463.5h-8.6M521.5 414.4h8.6M946.3 414.4h-8.6M521.5 635.6h4.3M946.3 635.6h-4.3M521.5 586.5h4.3M946.3 586.5h-4.3M521.5 537.3h4.3M946.3 537.3h-4.3M521.5 488.1h4.3M946.3 488.1h-4.3M521.5 438.9h4.3M946.3 438.9h-4.3M521.5 389.8h4.3M946.3 389.8h-4.3" stroke="#222" stroke-width="0.9" fill="none"/>
<text x="564" y="680.4" font-size="13" text-anchor="middle">0.56</text>
<text x="648.9" y="680.4" font-size="13" text-anchor="middle">0.58</text>
<text x="733.9" y="680.4" font-size="13" text-anchor="middle">0.6</text>
<text x="819.9" y="680.4" font-size="13" text-anchor="middle">0.62</text>
<text x="903.8" y="680.4" font-size="13" text-anchor="middle">0.64</text>
<text x="514.7" y="666.6" font-size="13" text-anchor="end">0</text>
<text x="514.7" y="615.3" font-size="13" text-anchor="end">0.1</text>
<text x="514.7" y="566.2" font-size="13" text-anchor="end">0.2</text>
<text x="514.7" y="517" font-size="13" text-anchor="end">0.3</text>
<text x="514.7" y="467.8" font-size="13" text-anchor="end">0.4</text>
<text x="514.7" y="418.7" font-size="13" text-anchor="end">0.5</text>
<text x="514.7" y="369.5" font-size="13" text-anchor="end">0.6</text>
<text x="656.6" y="388.8" font-size="20">(d)</text>
<text transform="translate(494.7 532.3) rotate(-90)" font-size="18" text-anchor="middle">M</text>
<text x="675.1" y="688" font-size="19.5">e</text>
<text x="685.1" y="693.1" font-size="17.3">tot</text>
<rect x="818.3" y="386.3" width="99.6" height="55.8" fill="#fff" stroke="#222" stroke-width="0.9"/>
<text x="848.9" y="398.6" font-size="12">MD</text>
<text x="848.9" y="410.7" font-size="12">LB</text>
<text x="848.9" y="422.8" font-size="12">CH</text>
<text x="848.9" y="435.3" font-size="12">CH - Entropy</text>
<path d="M831.6 394.6h0" stroke="#000000" stroke-width="1.60" stroke-linecap="round" fill="none"/>
<path d="M823.1 406.6h17" stroke="#ff0000" stroke-width="1.1"/>
<path d="M831.6 415.9l3 3l-3 3l-3 -3z" fill="#00ff00"/>
<path d="M831.6 432.3h0" stroke="#0000ff" stroke-width="1.70" stroke-linecap="round" fill="none"/>
</svg></div>
</body></html>
